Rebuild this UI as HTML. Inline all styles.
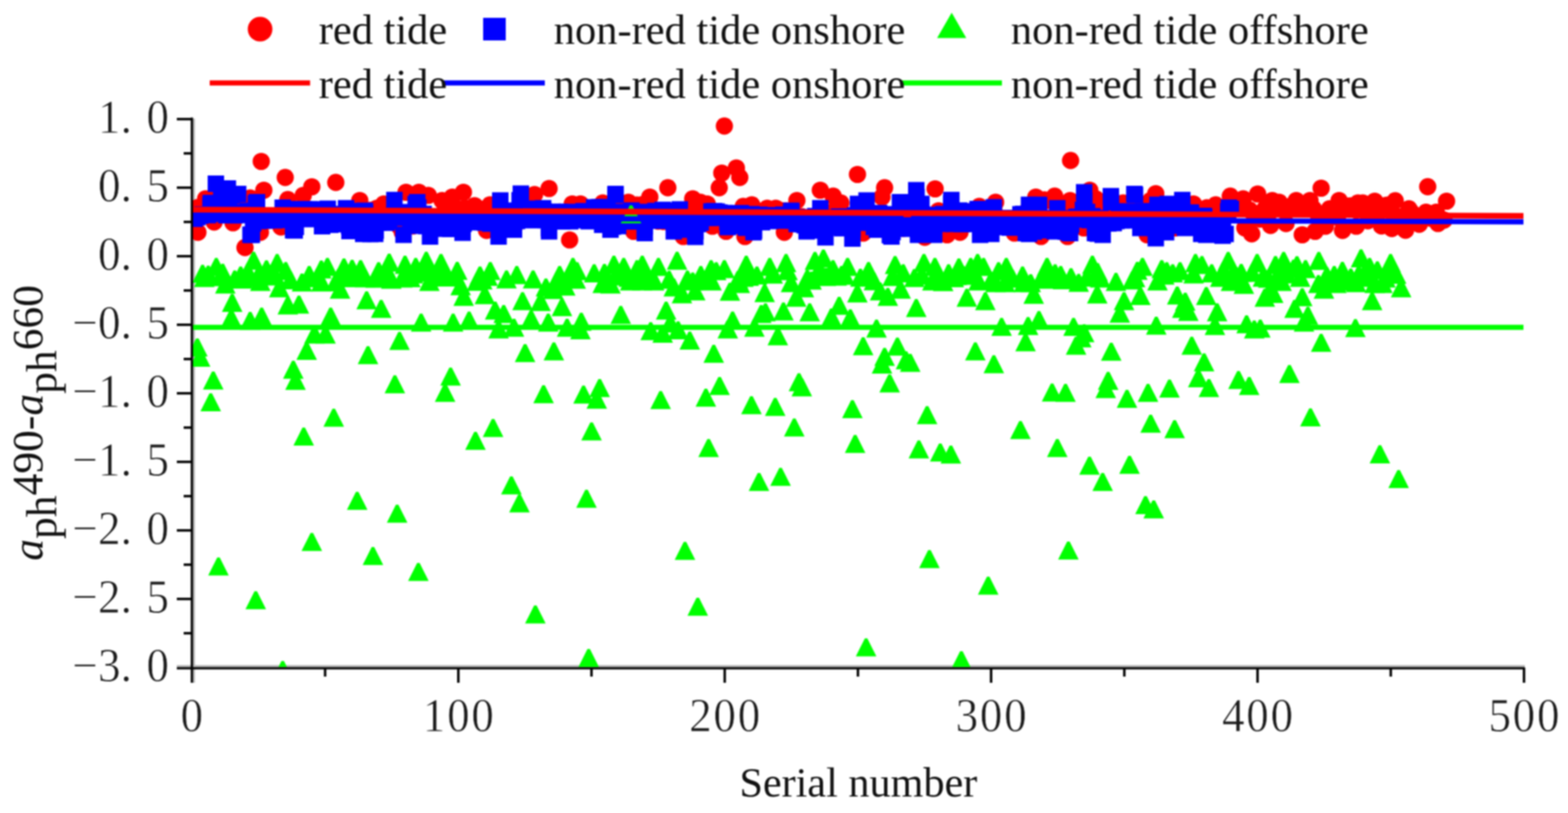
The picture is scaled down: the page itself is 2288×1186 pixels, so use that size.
<!DOCTYPE html>
<html lang="en"><head><meta charset="utf-8"><title>aph490-aph660 vs serial number</title>
<style>
html,body{margin:0;padding:0;background:#fff;}
body{width:2288px;height:1186px;overflow:hidden;}
svg{display:block;filter:blur(1px);}
text{font-family:"Liberation Serif","Times New Roman",serif;fill:#111;}
.lg{font-size:62px;}
.tk{font-size:70px;fill:#1a1a1a;stroke:#fff;stroke-width:0.8px;}
.ax{stroke:#000;stroke-width:3.6;fill:none;}
</style></head><body>
<svg width="2288" height="1186" viewBox="0 0 2288 1186">
<rect width="2288" height="1186" fill="#fff"/>
<defs><clipPath id="cp"><rect x="281" y="150" width="1960" height="823"/></clipPath></defs>
<path d="M283 173V996" stroke="#b4b4b4" stroke-width="2.8" fill="none"/>
<path d="M258 971.8H2225" stroke="#b4b4b4" stroke-width="3" fill="none"/>
<g clip-path="url(#cp)">
<g fill="#f00">
<circle cx="283.9" cy="314.6" r="12.6"/>
<circle cx="295.6" cy="306.5" r="12.6"/>
<circle cx="303.3" cy="313.1" r="12.6"/>
<circle cx="307.2" cy="304.7" r="12.6"/>
<circle cx="315.0" cy="285.8" r="12.6"/>
<circle cx="318.9" cy="291.4" r="12.6"/>
<circle cx="322.8" cy="295.7" r="12.6"/>
<circle cx="326.6" cy="281.9" r="12.6"/>
<circle cx="330.5" cy="283.6" r="12.6"/>
<circle cx="334.4" cy="302.6" r="12.6"/>
<circle cx="342.2" cy="302.8" r="12.6"/>
<circle cx="346.1" cy="299.6" r="12.6"/>
<circle cx="350.0" cy="312.5" r="12.6"/>
<circle cx="353.9" cy="311.2" r="12.6"/>
<circle cx="361.6" cy="312.5" r="12.6"/>
<circle cx="369.4" cy="315.8" r="12.6"/>
<circle cx="373.3" cy="315.3" r="12.6"/>
<circle cx="377.2" cy="317.1" r="12.6"/>
<circle cx="392.7" cy="321.6" r="12.6"/>
<circle cx="396.6" cy="319.3" r="12.6"/>
<circle cx="400.5" cy="319.3" r="12.6"/>
<circle cx="404.4" cy="321.7" r="12.6"/>
<circle cx="412.2" cy="309.1" r="12.6"/>
<circle cx="423.8" cy="322.0" r="12.6"/>
<circle cx="427.7" cy="331.7" r="12.6"/>
<circle cx="431.6" cy="309.5" r="12.6"/>
<circle cx="435.5" cy="308.9" r="12.6"/>
<circle cx="439.4" cy="315.7" r="12.6"/>
<circle cx="447.2" cy="309.1" r="12.6"/>
<circle cx="451.1" cy="306.9" r="12.6"/>
<circle cx="458.8" cy="317.2" r="12.6"/>
<circle cx="462.7" cy="311.4" r="12.6"/>
<circle cx="466.6" cy="316.6" r="12.6"/>
<circle cx="470.5" cy="308.3" r="12.6"/>
<circle cx="474.4" cy="314.4" r="12.6"/>
<circle cx="478.3" cy="320.6" r="12.6"/>
<circle cx="482.1" cy="313.3" r="12.6"/>
<circle cx="486.0" cy="315.9" r="12.6"/>
<circle cx="493.8" cy="322.9" r="12.6"/>
<circle cx="497.7" cy="326.2" r="12.6"/>
<circle cx="501.6" cy="327.0" r="12.6"/>
<circle cx="505.5" cy="308.5" r="12.6"/>
<circle cx="509.4" cy="320.5" r="12.6"/>
<circle cx="513.2" cy="329.0" r="12.6"/>
<circle cx="517.1" cy="322.0" r="12.6"/>
<circle cx="521.0" cy="327.0" r="12.6"/>
<circle cx="528.8" cy="307.7" r="12.6"/>
<circle cx="532.7" cy="307.1" r="12.6"/>
<circle cx="536.6" cy="307.3" r="12.6"/>
<circle cx="540.5" cy="306.9" r="12.6"/>
<circle cx="544.4" cy="309.5" r="12.6"/>
<circle cx="552.1" cy="309.3" r="12.6"/>
<circle cx="556.0" cy="309.6" r="12.6"/>
<circle cx="563.8" cy="317.9" r="12.6"/>
<circle cx="567.7" cy="318.2" r="12.6"/>
<circle cx="571.6" cy="318.3" r="12.6"/>
<circle cx="575.5" cy="319.5" r="12.6"/>
<circle cx="579.3" cy="324.4" r="12.6"/>
<circle cx="587.1" cy="339.1" r="12.6"/>
<circle cx="594.9" cy="311.3" r="12.6"/>
<circle cx="598.8" cy="310.6" r="12.6"/>
<circle cx="602.7" cy="329.7" r="12.6"/>
<circle cx="606.5" cy="312.1" r="12.6"/>
<circle cx="614.3" cy="326.0" r="12.6"/>
<circle cx="618.2" cy="317.1" r="12.6"/>
<circle cx="622.1" cy="320.0" r="12.6"/>
<circle cx="629.9" cy="330.8" r="12.6"/>
<circle cx="633.8" cy="323.8" r="12.6"/>
<circle cx="637.7" cy="326.7" r="12.6"/>
<circle cx="641.5" cy="317.0" r="12.6"/>
<circle cx="649.3" cy="299.0" r="12.6"/>
<circle cx="653.2" cy="299.7" r="12.6"/>
<circle cx="657.1" cy="296.4" r="12.6"/>
<circle cx="664.9" cy="324.2" r="12.6"/>
<circle cx="668.8" cy="306.7" r="12.6"/>
<circle cx="672.6" cy="305.0" r="12.6"/>
<circle cx="680.4" cy="304.0" r="12.6"/>
<circle cx="684.3" cy="318.2" r="12.6"/>
<circle cx="688.2" cy="321.4" r="12.6"/>
<circle cx="696.0" cy="303.1" r="12.6"/>
<circle cx="699.9" cy="307.5" r="12.6"/>
<circle cx="703.7" cy="307.0" r="12.6"/>
<circle cx="707.6" cy="306.5" r="12.6"/>
<circle cx="719.3" cy="324.1" r="12.6"/>
<circle cx="723.2" cy="321.5" r="12.6"/>
<circle cx="727.1" cy="326.3" r="12.6"/>
<circle cx="731.0" cy="317.3" r="12.6"/>
<circle cx="734.8" cy="320.7" r="12.6"/>
<circle cx="738.7" cy="332.8" r="12.6"/>
<circle cx="742.6" cy="328.3" r="12.6"/>
<circle cx="746.5" cy="314.5" r="12.6"/>
<circle cx="750.4" cy="331.0" r="12.6"/>
<circle cx="754.3" cy="318.4" r="12.6"/>
<circle cx="758.2" cy="313.5" r="12.6"/>
<circle cx="762.0" cy="314.9" r="12.6"/>
<circle cx="765.9" cy="311.9" r="12.6"/>
<circle cx="769.8" cy="320.2" r="12.6"/>
<circle cx="773.7" cy="320.0" r="12.6"/>
<circle cx="777.6" cy="316.8" r="12.6"/>
<circle cx="785.4" cy="318.0" r="12.6"/>
<circle cx="789.3" cy="318.0" r="12.6"/>
<circle cx="793.1" cy="311.9" r="12.6"/>
<circle cx="797.0" cy="317.3" r="12.6"/>
<circle cx="804.8" cy="310.1" r="12.6"/>
<circle cx="808.7" cy="313.6" r="12.6"/>
<circle cx="812.6" cy="315.2" r="12.6"/>
<circle cx="816.5" cy="309.4" r="12.6"/>
<circle cx="820.4" cy="313.8" r="12.6"/>
<circle cx="824.2" cy="317.4" r="12.6"/>
<circle cx="828.1" cy="317.2" r="12.6"/>
<circle cx="839.8" cy="301.7" r="12.6"/>
<circle cx="843.7" cy="305.2" r="12.6"/>
<circle cx="851.5" cy="317.3" r="12.6"/>
<circle cx="855.4" cy="312.7" r="12.6"/>
<circle cx="859.2" cy="303.8" r="12.6"/>
<circle cx="863.1" cy="303.3" r="12.6"/>
<circle cx="867.0" cy="303.2" r="12.6"/>
<circle cx="870.9" cy="302.4" r="12.6"/>
<circle cx="874.8" cy="322.0" r="12.6"/>
<circle cx="882.6" cy="318.4" r="12.6"/>
<circle cx="886.5" cy="319.8" r="12.6"/>
<circle cx="890.3" cy="326.6" r="12.6"/>
<circle cx="894.2" cy="304.2" r="12.6"/>
<circle cx="898.1" cy="299.4" r="12.6"/>
<circle cx="902.0" cy="302.3" r="12.6"/>
<circle cx="905.9" cy="324.8" r="12.6"/>
<circle cx="909.8" cy="313.8" r="12.6"/>
<circle cx="913.7" cy="313.6" r="12.6"/>
<circle cx="921.4" cy="308.7" r="12.6"/>
<circle cx="929.2" cy="299.0" r="12.6"/>
<circle cx="933.1" cy="299.9" r="12.6"/>
<circle cx="937.0" cy="298.5" r="12.6"/>
<circle cx="940.9" cy="299.3" r="12.6"/>
<circle cx="944.8" cy="321.8" r="12.6"/>
<circle cx="952.5" cy="315.8" r="12.6"/>
<circle cx="956.4" cy="315.1" r="12.6"/>
<circle cx="960.3" cy="322.7" r="12.6"/>
<circle cx="964.2" cy="316.1" r="12.6"/>
<circle cx="968.1" cy="323.2" r="12.6"/>
<circle cx="972.0" cy="317.3" r="12.6"/>
<circle cx="979.8" cy="320.1" r="12.6"/>
<circle cx="983.6" cy="309.0" r="12.6"/>
<circle cx="987.5" cy="324.1" r="12.6"/>
<circle cx="991.4" cy="328.8" r="12.6"/>
<circle cx="999.2" cy="317.6" r="12.6"/>
<circle cx="1003.1" cy="334.4" r="12.6"/>
<circle cx="1007.0" cy="319.8" r="12.6"/>
<circle cx="1014.7" cy="300.4" r="12.6"/>
<circle cx="1018.6" cy="298.8" r="12.6"/>
<circle cx="1026.4" cy="303.0" r="12.6"/>
<circle cx="1034.2" cy="314.8" r="12.6"/>
<circle cx="1042.0" cy="309.8" r="12.6"/>
<circle cx="1045.8" cy="317.8" r="12.6"/>
<circle cx="1065.3" cy="319.2" r="12.6"/>
<circle cx="1069.2" cy="321.1" r="12.6"/>
<circle cx="1076.9" cy="322.4" r="12.6"/>
<circle cx="1092.5" cy="306.1" r="12.6"/>
<circle cx="1100.3" cy="308.2" r="12.6"/>
<circle cx="1104.2" cy="310.0" r="12.6"/>
<circle cx="1108.0" cy="309.6" r="12.6"/>
<circle cx="1111.9" cy="308.2" r="12.6"/>
<circle cx="1115.8" cy="310.3" r="12.6"/>
<circle cx="1123.6" cy="308.2" r="12.6"/>
<circle cx="1127.5" cy="306.8" r="12.6"/>
<circle cx="1135.2" cy="315.2" r="12.6"/>
<circle cx="1139.1" cy="307.0" r="12.6"/>
<circle cx="1146.9" cy="307.5" r="12.6"/>
<circle cx="1150.8" cy="310.5" r="12.6"/>
<circle cx="1154.7" cy="308.7" r="12.6"/>
<circle cx="1158.6" cy="321.3" r="12.6"/>
<circle cx="1166.3" cy="325.0" r="12.6"/>
<circle cx="1170.2" cy="316.1" r="12.6"/>
<circle cx="1174.1" cy="328.1" r="12.6"/>
<circle cx="1178.0" cy="334.6" r="12.6"/>
<circle cx="1181.9" cy="317.0" r="12.6"/>
<circle cx="1185.8" cy="333.8" r="12.6"/>
<circle cx="1189.7" cy="324.2" r="12.6"/>
<circle cx="1193.6" cy="325.2" r="12.6"/>
<circle cx="1201.3" cy="335.2" r="12.6"/>
<circle cx="1205.2" cy="323.6" r="12.6"/>
<circle cx="1209.1" cy="324.7" r="12.6"/>
<circle cx="1213.0" cy="331.0" r="12.6"/>
<circle cx="1220.8" cy="302.9" r="12.6"/>
<circle cx="1224.7" cy="301.6" r="12.6"/>
<circle cx="1232.4" cy="331.7" r="12.6"/>
<circle cx="1236.3" cy="329.2" r="12.6"/>
<circle cx="1240.2" cy="325.0" r="12.6"/>
<circle cx="1244.1" cy="318.0" r="12.6"/>
<circle cx="1248.0" cy="324.6" r="12.6"/>
<circle cx="1255.8" cy="313.6" r="12.6"/>
<circle cx="1263.5" cy="301.1" r="12.6"/>
<circle cx="1267.4" cy="312.7" r="12.6"/>
<circle cx="1271.3" cy="321.8" r="12.6"/>
<circle cx="1275.2" cy="314.1" r="12.6"/>
<circle cx="1279.1" cy="320.2" r="12.6"/>
<circle cx="1283.0" cy="324.4" r="12.6"/>
<circle cx="1294.6" cy="320.4" r="12.6"/>
<circle cx="1298.5" cy="320.2" r="12.6"/>
<circle cx="1302.4" cy="330.5" r="12.6"/>
<circle cx="1306.3" cy="320.8" r="12.6"/>
<circle cx="1310.2" cy="328.5" r="12.6"/>
<circle cx="1314.1" cy="315.8" r="12.6"/>
<circle cx="1318.0" cy="333.2" r="12.6"/>
<circle cx="1321.9" cy="331.5" r="12.6"/>
<circle cx="1325.7" cy="323.4" r="12.6"/>
<circle cx="1329.6" cy="304.9" r="12.6"/>
<circle cx="1333.5" cy="300.2" r="12.6"/>
<circle cx="1337.4" cy="327.4" r="12.6"/>
<circle cx="1341.3" cy="332.5" r="12.6"/>
<circle cx="1345.2" cy="325.5" r="12.6"/>
<circle cx="1353.0" cy="323.4" r="12.6"/>
<circle cx="1356.8" cy="320.9" r="12.6"/>
<circle cx="1360.7" cy="332.9" r="12.6"/>
<circle cx="1372.4" cy="320.9" r="12.6"/>
<circle cx="1376.3" cy="321.3" r="12.6"/>
<circle cx="1384.0" cy="321.9" r="12.6"/>
<circle cx="1387.9" cy="318.6" r="12.6"/>
<circle cx="1391.8" cy="309.6" r="12.6"/>
<circle cx="1395.7" cy="310.9" r="12.6"/>
<circle cx="1403.5" cy="326.6" r="12.6"/>
<circle cx="1407.4" cy="325.4" r="12.6"/>
<circle cx="1411.3" cy="324.7" r="12.6"/>
<circle cx="1415.2" cy="308.8" r="12.6"/>
<circle cx="1419.0" cy="309.2" r="12.6"/>
<circle cx="1422.9" cy="313.1" r="12.6"/>
<circle cx="1426.8" cy="318.2" r="12.6"/>
<circle cx="1434.6" cy="307.4" r="12.6"/>
<circle cx="1438.5" cy="304.8" r="12.6"/>
<circle cx="1442.4" cy="307.0" r="12.6"/>
<circle cx="1446.2" cy="304.6" r="12.6"/>
<circle cx="1450.1" cy="304.7" r="12.6"/>
<circle cx="1457.9" cy="327.1" r="12.6"/>
<circle cx="1461.8" cy="325.1" r="12.6"/>
<circle cx="1465.7" cy="326.4" r="12.6"/>
<circle cx="1469.6" cy="322.4" r="12.6"/>
<circle cx="1473.5" cy="324.0" r="12.6"/>
<circle cx="1477.4" cy="320.0" r="12.6"/>
<circle cx="1485.1" cy="318.7" r="12.6"/>
<circle cx="1489.0" cy="326.8" r="12.6"/>
<circle cx="1492.9" cy="328.7" r="12.6"/>
<circle cx="1496.8" cy="313.9" r="12.6"/>
<circle cx="1500.7" cy="304.9" r="12.6"/>
<circle cx="1504.6" cy="333.0" r="12.6"/>
<circle cx="1508.5" cy="323.1" r="12.6"/>
<circle cx="1516.2" cy="294.3" r="12.6"/>
<circle cx="1524.0" cy="291.6" r="12.6"/>
<circle cx="1527.9" cy="292.6" r="12.6"/>
<circle cx="1531.8" cy="291.8" r="12.6"/>
<circle cx="1535.7" cy="333.4" r="12.6"/>
<circle cx="1543.4" cy="297.3" r="12.6"/>
<circle cx="1547.3" cy="298.8" r="12.6"/>
<circle cx="1551.2" cy="300.4" r="12.6"/>
<circle cx="1555.1" cy="297.1" r="12.6"/>
<circle cx="1570.7" cy="319.6" r="12.6"/>
<circle cx="1574.5" cy="320.7" r="12.6"/>
<circle cx="1578.4" cy="300.1" r="12.6"/>
<circle cx="1586.2" cy="314.0" r="12.6"/>
<circle cx="1594.0" cy="313.2" r="12.6"/>
<circle cx="1601.8" cy="311.3" r="12.6"/>
<circle cx="1605.6" cy="337.3" r="12.6"/>
<circle cx="1609.5" cy="310.6" r="12.6"/>
<circle cx="1613.4" cy="309.6" r="12.6"/>
<circle cx="1617.3" cy="302.1" r="12.6"/>
<circle cx="1621.2" cy="301.7" r="12.6"/>
<circle cx="1625.1" cy="321.0" r="12.6"/>
<circle cx="1629.0" cy="312.2" r="12.6"/>
<circle cx="1632.9" cy="318.9" r="12.6"/>
<circle cx="1636.7" cy="309.1" r="12.6"/>
<circle cx="1644.5" cy="311.0" r="12.6"/>
<circle cx="1648.4" cy="317.3" r="12.6"/>
<circle cx="1652.3" cy="309.1" r="12.6"/>
<circle cx="1656.2" cy="300.8" r="12.6"/>
<circle cx="1660.1" cy="302.9" r="12.6"/>
<circle cx="1664.0" cy="317.0" r="12.6"/>
<circle cx="1667.8" cy="312.0" r="12.6"/>
<circle cx="1671.7" cy="310.0" r="12.6"/>
<circle cx="1683.4" cy="317.0" r="12.6"/>
<circle cx="1691.2" cy="330.0" r="12.6"/>
<circle cx="1695.0" cy="319.1" r="12.6"/>
<circle cx="1698.9" cy="311.6" r="12.6"/>
<circle cx="1702.8" cy="323.2" r="12.6"/>
<circle cx="1706.7" cy="316.8" r="12.6"/>
<circle cx="1710.6" cy="327.1" r="12.6"/>
<circle cx="1718.4" cy="327.7" r="12.6"/>
<circle cx="1722.3" cy="326.9" r="12.6"/>
<circle cx="1726.2" cy="309.0" r="12.6"/>
<circle cx="1730.0" cy="325.8" r="12.6"/>
<circle cx="1733.9" cy="316.3" r="12.6"/>
<circle cx="1737.8" cy="316.5" r="12.6"/>
<circle cx="1745.6" cy="321.8" r="12.6"/>
<circle cx="1749.5" cy="328.7" r="12.6"/>
<circle cx="1757.2" cy="306.2" r="12.6"/>
<circle cx="1761.1" cy="303.0" r="12.6"/>
<circle cx="1765.0" cy="303.6" r="12.6"/>
<circle cx="1768.9" cy="329.8" r="12.6"/>
<circle cx="1776.7" cy="303.6" r="12.6"/>
<circle cx="1780.6" cy="303.7" r="12.6"/>
<circle cx="1784.5" cy="303.7" r="12.6"/>
<circle cx="1788.4" cy="302.7" r="12.6"/>
<circle cx="1792.2" cy="304.6" r="12.6"/>
<circle cx="1800.0" cy="297.0" r="12.6"/>
<circle cx="1803.9" cy="295.7" r="12.6"/>
<circle cx="1807.8" cy="297.2" r="12.6"/>
<circle cx="1811.7" cy="295.8" r="12.6"/>
<circle cx="1823.3" cy="306.4" r="12.6"/>
<circle cx="1831.1" cy="317.4" r="12.6"/>
<circle cx="1838.9" cy="319.7" r="12.6"/>
<circle cx="1842.8" cy="308.3" r="12.6"/>
<circle cx="1846.7" cy="303.4" r="12.6"/>
<circle cx="1850.6" cy="312.8" r="12.6"/>
<circle cx="1862.2" cy="300.7" r="12.6"/>
<circle cx="1870.0" cy="300.8" r="12.6"/>
<circle cx="1873.9" cy="302.8" r="12.6"/>
<circle cx="1881.7" cy="301.3" r="12.6"/>
<circle cx="1885.5" cy="302.0" r="12.6"/>
<circle cx="1889.4" cy="298.3" r="12.6"/>
<circle cx="1897.2" cy="298.2" r="12.6"/>
<circle cx="1905.0" cy="299.4" r="12.6"/>
<circle cx="1908.9" cy="295.9" r="12.6"/>
<circle cx="1916.6" cy="304.6" r="12.6"/>
<circle cx="1924.4" cy="317.0" r="12.6"/>
<circle cx="1936.1" cy="320.1" r="12.6"/>
<circle cx="1940.0" cy="304.6" r="12.6"/>
<circle cx="1943.9" cy="315.0" r="12.6"/>
<circle cx="1947.7" cy="305.7" r="12.6"/>
<circle cx="1951.6" cy="317.2" r="12.6"/>
<circle cx="1963.3" cy="302.5" r="12.6"/>
<circle cx="1967.2" cy="300.5" r="12.6"/>
<circle cx="1971.1" cy="300.4" r="12.6"/>
<circle cx="1975.0" cy="303.1" r="12.6"/>
<circle cx="1990.5" cy="301.6" r="12.6"/>
<circle cx="1998.3" cy="302.8" r="12.6"/>
<circle cx="2002.2" cy="301.0" r="12.6"/>
<circle cx="2009.9" cy="309.4" r="12.6"/>
<circle cx="2013.8" cy="301.4" r="12.6"/>
<circle cx="2021.6" cy="299.9" r="12.6"/>
<circle cx="2025.5" cy="299.0" r="12.6"/>
<circle cx="2033.3" cy="313.2" r="12.6"/>
<circle cx="2041.0" cy="316.7" r="12.6"/>
<circle cx="2044.9" cy="316.5" r="12.6"/>
<circle cx="2048.8" cy="320.4" r="12.6"/>
<circle cx="2060.5" cy="310.8" r="12.6"/>
<circle cx="2064.4" cy="318.7" r="12.6"/>
<circle cx="2068.2" cy="315.7" r="12.6"/>
<circle cx="2076.0" cy="319.2" r="12.6"/>
<circle cx="2087.7" cy="318.3" r="12.6"/>
<circle cx="2091.6" cy="318.8" r="12.6"/>
<circle cx="2103.2" cy="319.9" r="12.6"/>
<circle cx="2107.1" cy="321.2" r="12.6"/>
<circle cx="288.8" cy="302.5" r="12.6"/>
<circle cx="288.8" cy="338.8" r="12.6"/>
<circle cx="300.0" cy="290.0" r="12.6"/>
<circle cx="312.5" cy="323.8" r="12.6"/>
<circle cx="340.0" cy="325.0" r="12.6"/>
<circle cx="357.5" cy="361.2" r="12.6"/>
<circle cx="365.0" cy="288.8" r="12.6"/>
<circle cx="380.0" cy="338.8" r="12.6"/>
<circle cx="381.2" cy="235.5" r="12.6"/>
<circle cx="385.0" cy="277.5" r="12.6"/>
<circle cx="410.0" cy="331.2" r="12.6"/>
<circle cx="416.2" cy="258.8" r="12.6"/>
<circle cx="420.0" cy="291.2" r="12.6"/>
<circle cx="442.5" cy="285.0" r="12.6"/>
<circle cx="455.0" cy="272.5" r="12.6"/>
<circle cx="490.0" cy="266.2" r="12.6"/>
<circle cx="525.0" cy="292.5" r="12.6"/>
<circle cx="550.0" cy="303.8" r="12.6"/>
<circle cx="560.0" cy="297.5" r="12.6"/>
<circle cx="582.5" cy="330.0" r="12.6"/>
<circle cx="592.5" cy="280.5" r="12.6"/>
<circle cx="611.2" cy="280.5" r="12.6"/>
<circle cx="625.0" cy="285.0" r="12.6"/>
<circle cx="645.0" cy="292.5" r="12.6"/>
<circle cx="660.0" cy="287.5" r="12.6"/>
<circle cx="676.2" cy="280.5" r="12.6"/>
<circle cx="692.5" cy="300.0" r="12.6"/>
<circle cx="710.0" cy="336.2" r="12.6"/>
<circle cx="715.0" cy="298.8" r="12.6"/>
<circle cx="780.0" cy="283.8" r="12.6"/>
<circle cx="801.2" cy="275.0" r="12.6"/>
<circle cx="831.2" cy="350.0" r="12.6"/>
<circle cx="835.0" cy="297.5" r="12.6"/>
<circle cx="847.0" cy="297.5" r="12.6"/>
<circle cx="879.5" cy="296.2" r="12.6"/>
<circle cx="917.0" cy="295.0" r="12.6"/>
<circle cx="924.5" cy="337.5" r="12.6"/>
<circle cx="948.2" cy="287.5" r="12.6"/>
<circle cx="974.5" cy="273.8" r="12.6"/>
<circle cx="997.0" cy="345.0" r="12.6"/>
<circle cx="1010.8" cy="290.0" r="12.6"/>
<circle cx="1022.0" cy="295.0" r="12.6"/>
<circle cx="1032.0" cy="297.5" r="12.6"/>
<circle cx="1039.5" cy="330.0" r="12.6"/>
<circle cx="1049.5" cy="273.8" r="12.6"/>
<circle cx="1053.2" cy="252.5" r="12.6"/>
<circle cx="1057.0" cy="183.8" r="12.6"/>
<circle cx="1059.5" cy="337.5" r="12.6"/>
<circle cx="1074.5" cy="245.0" r="12.6"/>
<circle cx="1079.5" cy="258.8" r="12.6"/>
<circle cx="1084.5" cy="301.2" r="12.6"/>
<circle cx="1087.0" cy="345.0" r="12.6"/>
<circle cx="1097.0" cy="298.8" r="12.6"/>
<circle cx="1119.5" cy="303.8" r="12.6"/>
<circle cx="1132.0" cy="303.8" r="12.6"/>
<circle cx="1144.5" cy="338.8" r="12.6"/>
<circle cx="1162.8" cy="292.5" r="12.6"/>
<circle cx="1197.0" cy="277.5" r="12.6"/>
<circle cx="1215.8" cy="286.2" r="12.6"/>
<circle cx="1227.0" cy="296.2" r="12.6"/>
<circle cx="1251.2" cy="254.5" r="12.6"/>
<circle cx="1259.5" cy="340.0" r="12.6"/>
<circle cx="1287.0" cy="287.5" r="12.6"/>
<circle cx="1290.8" cy="273.8" r="12.6"/>
<circle cx="1349.5" cy="346.2" r="12.6"/>
<circle cx="1364.5" cy="275.5" r="12.6"/>
<circle cx="1369.5" cy="307.5" r="12.6"/>
<circle cx="1382.0" cy="342.5" r="12.6"/>
<circle cx="1400.8" cy="338.8" r="12.6"/>
<circle cx="1429.0" cy="301.2" r="12.6"/>
<circle cx="1452.8" cy="295.0" r="12.6"/>
<circle cx="1480.2" cy="340.0" r="12.6"/>
<circle cx="1511.5" cy="287.5" r="12.6"/>
<circle cx="1519.0" cy="345.0" r="12.6"/>
<circle cx="1539.0" cy="286.2" r="12.6"/>
<circle cx="1557.8" cy="345.0" r="12.6"/>
<circle cx="1561.5" cy="292.5" r="12.6"/>
<circle cx="1562.2" cy="234.2" r="12.6"/>
<circle cx="1581.5" cy="332.5" r="12.6"/>
<circle cx="1590.2" cy="277.5" r="12.6"/>
<circle cx="1599.0" cy="290.0" r="12.6"/>
<circle cx="1639.0" cy="296.2" r="12.6"/>
<circle cx="1674.0" cy="342.5" r="12.6"/>
<circle cx="1679.0" cy="292.5" r="12.6"/>
<circle cx="1686.5" cy="282.5" r="12.6"/>
<circle cx="1714.0" cy="332.5" r="12.6"/>
<circle cx="1741.5" cy="297.5" r="12.6"/>
<circle cx="1751.5" cy="310.0" r="12.6"/>
<circle cx="1774.0" cy="298.8" r="12.6"/>
<circle cx="1795.2" cy="286.2" r="12.6"/>
<circle cx="1814.0" cy="290.0" r="12.6"/>
<circle cx="1816.5" cy="332.5" r="12.6"/>
<circle cx="1826.5" cy="341.2" r="12.6"/>
<circle cx="1835.2" cy="283.0" r="12.6"/>
<circle cx="1854.0" cy="328.8" r="12.6"/>
<circle cx="1856.5" cy="292.5" r="12.6"/>
<circle cx="1866.5" cy="295.0" r="12.6"/>
<circle cx="1876.5" cy="326.2" r="12.6"/>
<circle cx="1891.5" cy="292.5" r="12.6"/>
<circle cx="1900.2" cy="342.5" r="12.6"/>
<circle cx="1911.5" cy="292.5" r="12.6"/>
<circle cx="1919.0" cy="337.5" r="12.6"/>
<circle cx="1927.8" cy="274.5" r="12.6"/>
<circle cx="1934.0" cy="330.0" r="12.6"/>
<circle cx="1954.0" cy="292.5" r="12.6"/>
<circle cx="1959.0" cy="336.2" r="12.6"/>
<circle cx="1979.0" cy="330.0" r="12.6"/>
<circle cx="1981.5" cy="296.2" r="12.6"/>
<circle cx="1988.5" cy="296.0" r="12.6"/>
<circle cx="1996.0" cy="322.2" r="12.6"/>
<circle cx="2006.0" cy="293.5" r="12.6"/>
<circle cx="2015.9" cy="329.7" r="12.6"/>
<circle cx="2030.9" cy="333.4" r="12.6"/>
<circle cx="2035.9" cy="292.8" r="12.6"/>
<circle cx="2050.9" cy="335.9" r="12.6"/>
<circle cx="2055.9" cy="304.7" r="12.6"/>
<circle cx="2070.9" cy="327.2" r="12.6"/>
<circle cx="2080.8" cy="309.7" r="12.6"/>
<circle cx="2083.3" cy="272.3" r="12.6"/>
<circle cx="2095.8" cy="309.7" r="12.6"/>
<circle cx="2098.3" cy="326.0" r="12.6"/>
<circle cx="2110.8" cy="293.5" r="12.6"/>
</g><g fill="#00f">
<rect x="271.9" y="307.1" width="24" height="24"/>
<rect x="275.8" y="304.8" width="24" height="24"/>
<rect x="279.7" y="302.8" width="24" height="24"/>
<rect x="283.6" y="300.9" width="24" height="24"/>
<rect x="287.4" y="301.1" width="24" height="24"/>
<rect x="291.3" y="301.8" width="24" height="24"/>
<rect x="295.2" y="288.2" width="24" height="24"/>
<rect x="299.1" y="293.8" width="24" height="24"/>
<rect x="303.0" y="285.2" width="24" height="24"/>
<rect x="306.9" y="299.9" width="24" height="24"/>
<rect x="310.8" y="266.7" width="24" height="24"/>
<rect x="314.6" y="263.9" width="24" height="24"/>
<rect x="318.5" y="302.0" width="24" height="24"/>
<rect x="322.4" y="296.3" width="24" height="24"/>
<rect x="326.3" y="273.3" width="24" height="24"/>
<rect x="330.2" y="302.1" width="24" height="24"/>
<rect x="334.1" y="301.7" width="24" height="24"/>
<rect x="338.0" y="297.9" width="24" height="24"/>
<rect x="341.9" y="300.3" width="24" height="24"/>
<rect x="345.8" y="299.5" width="24" height="24"/>
<rect x="349.6" y="295.5" width="24" height="24"/>
<rect x="353.5" y="330.5" width="24" height="24"/>
<rect x="357.4" y="313.8" width="24" height="24"/>
<rect x="361.3" y="284.7" width="24" height="24"/>
<rect x="365.2" y="310.4" width="24" height="24"/>
<rect x="369.1" y="306.5" width="24" height="24"/>
<rect x="373.0" y="305.1" width="24" height="24"/>
<rect x="376.9" y="309.6" width="24" height="24"/>
<rect x="380.7" y="307.6" width="24" height="24"/>
<rect x="384.6" y="307.5" width="24" height="24"/>
<rect x="388.5" y="309.4" width="24" height="24"/>
<rect x="392.4" y="308.8" width="24" height="24"/>
<rect x="396.3" y="306.5" width="24" height="24"/>
<rect x="400.2" y="304.8" width="24" height="24"/>
<rect x="404.1" y="301.0" width="24" height="24"/>
<rect x="408.0" y="293.3" width="24" height="24"/>
<rect x="411.8" y="308.0" width="24" height="24"/>
<rect x="415.7" y="323.9" width="24" height="24"/>
<rect x="419.6" y="319.0" width="24" height="24"/>
<rect x="423.5" y="303.8" width="24" height="24"/>
<rect x="427.4" y="297.5" width="24" height="24"/>
<rect x="431.3" y="293.2" width="24" height="24"/>
<rect x="435.2" y="307.6" width="24" height="24"/>
<rect x="439.1" y="293.6" width="24" height="24"/>
<rect x="442.9" y="294.8" width="24" height="24"/>
<rect x="446.8" y="298.9" width="24" height="24"/>
<rect x="450.7" y="306.0" width="24" height="24"/>
<rect x="454.6" y="293.7" width="24" height="24"/>
<rect x="458.5" y="315.5" width="24" height="24"/>
<rect x="462.4" y="312.8" width="24" height="24"/>
<rect x="466.3" y="292.5" width="24" height="24"/>
<rect x="470.1" y="315.9" width="24" height="24"/>
<rect x="474.0" y="315.0" width="24" height="24"/>
<rect x="477.9" y="301.4" width="24" height="24"/>
<rect x="481.8" y="313.6" width="24" height="24"/>
<rect x="485.7" y="306.6" width="24" height="24"/>
<rect x="489.6" y="300.2" width="24" height="24"/>
<rect x="493.5" y="312.6" width="24" height="24"/>
<rect x="497.4" y="317.5" width="24" height="24"/>
<rect x="501.2" y="295.8" width="24" height="24"/>
<rect x="505.1" y="324.5" width="24" height="24"/>
<rect x="509.0" y="304.9" width="24" height="24"/>
<rect x="512.9" y="297.9" width="24" height="24"/>
<rect x="516.8" y="317.6" width="24" height="24"/>
<rect x="520.7" y="299.1" width="24" height="24"/>
<rect x="524.6" y="304.5" width="24" height="24"/>
<rect x="528.5" y="329.4" width="24" height="24"/>
<rect x="532.4" y="305.3" width="24" height="24"/>
<rect x="536.2" y="324.5" width="24" height="24"/>
<rect x="540.1" y="313.0" width="24" height="24"/>
<rect x="544.0" y="309.2" width="24" height="24"/>
<rect x="547.9" y="305.1" width="24" height="24"/>
<rect x="551.8" y="312.9" width="24" height="24"/>
<rect x="555.7" y="310.9" width="24" height="24"/>
<rect x="559.6" y="304.1" width="24" height="24"/>
<rect x="563.5" y="301.6" width="24" height="24"/>
<rect x="567.3" y="298.3" width="24" height="24"/>
<rect x="571.2" y="297.5" width="24" height="24"/>
<rect x="575.1" y="303.5" width="24" height="24"/>
<rect x="579.0" y="305.5" width="24" height="24"/>
<rect x="582.9" y="299.2" width="24" height="24"/>
<rect x="586.8" y="317.3" width="24" height="24"/>
<rect x="590.7" y="303.4" width="24" height="24"/>
<rect x="594.5" y="285.7" width="24" height="24"/>
<rect x="598.4" y="290.7" width="24" height="24"/>
<rect x="602.3" y="306.3" width="24" height="24"/>
<rect x="606.2" y="300.1" width="24" height="24"/>
<rect x="610.1" y="317.8" width="24" height="24"/>
<rect x="614.0" y="306.7" width="24" height="24"/>
<rect x="617.9" y="306.7" width="24" height="24"/>
<rect x="621.8" y="321.6" width="24" height="24"/>
<rect x="625.7" y="308.5" width="24" height="24"/>
<rect x="629.5" y="306.1" width="24" height="24"/>
<rect x="633.4" y="321.3" width="24" height="24"/>
<rect x="637.3" y="309.2" width="24" height="24"/>
<rect x="641.2" y="304.0" width="24" height="24"/>
<rect x="645.1" y="322.0" width="24" height="24"/>
<rect x="649.0" y="314.5" width="24" height="24"/>
<rect x="652.9" y="304.5" width="24" height="24"/>
<rect x="656.8" y="320.4" width="24" height="24"/>
<rect x="660.6" y="312.5" width="24" height="24"/>
<rect x="664.5" y="314.4" width="24" height="24"/>
<rect x="668.4" y="311.9" width="24" height="24"/>
<rect x="672.3" y="309.1" width="24" height="24"/>
<rect x="676.2" y="305.5" width="24" height="24"/>
<rect x="680.1" y="312.2" width="24" height="24"/>
<rect x="684.0" y="305.8" width="24" height="24"/>
<rect x="687.9" y="304.2" width="24" height="24"/>
<rect x="691.7" y="312.0" width="24" height="24"/>
<rect x="695.6" y="312.7" width="24" height="24"/>
<rect x="699.5" y="304.5" width="24" height="24"/>
<rect x="703.4" y="314.2" width="24" height="24"/>
<rect x="707.3" y="311.2" width="24" height="24"/>
<rect x="711.2" y="304.1" width="24" height="24"/>
<rect x="715.1" y="307.5" width="24" height="24"/>
<rect x="719.0" y="320.2" width="24" height="24"/>
<rect x="722.8" y="297.6" width="24" height="24"/>
<rect x="726.7" y="320.4" width="24" height="24"/>
<rect x="730.6" y="306.5" width="24" height="24"/>
<rect x="734.5" y="295.3" width="24" height="24"/>
<rect x="738.4" y="296.1" width="24" height="24"/>
<rect x="742.3" y="310.4" width="24" height="24"/>
<rect x="746.2" y="280.2" width="24" height="24"/>
<rect x="750.0" y="308.9" width="24" height="24"/>
<rect x="753.9" y="296.9" width="24" height="24"/>
<rect x="757.8" y="294.5" width="24" height="24"/>
<rect x="761.7" y="309.2" width="24" height="24"/>
<rect x="765.6" y="297.6" width="24" height="24"/>
<rect x="769.5" y="292.5" width="24" height="24"/>
<rect x="773.4" y="308.8" width="24" height="24"/>
<rect x="777.3" y="293.3" width="24" height="24"/>
<rect x="781.1" y="296.3" width="24" height="24"/>
<rect x="785.0" y="309.3" width="24" height="24"/>
<rect x="788.9" y="321.2" width="24" height="24"/>
<rect x="792.8" y="298.1" width="24" height="24"/>
<rect x="796.7" y="310.2" width="24" height="24"/>
<rect x="800.6" y="309.8" width="24" height="24"/>
<rect x="804.5" y="296.9" width="24" height="24"/>
<rect x="808.4" y="311.0" width="24" height="24"/>
<rect x="812.2" y="300.2" width="24" height="24"/>
<rect x="816.1" y="297.6" width="24" height="24"/>
<rect x="820.0" y="310.8" width="24" height="24"/>
<rect x="823.9" y="298.8" width="24" height="24"/>
<rect x="827.8" y="297.4" width="24" height="24"/>
<rect x="831.7" y="309.3" width="24" height="24"/>
<rect x="835.6" y="298.2" width="24" height="24"/>
<rect x="839.5" y="296.1" width="24" height="24"/>
<rect x="843.4" y="308.3" width="24" height="24"/>
<rect x="847.2" y="310.7" width="24" height="24"/>
<rect x="851.1" y="297.0" width="24" height="24"/>
<rect x="855.0" y="304.5" width="24" height="24"/>
<rect x="858.9" y="302.3" width="24" height="24"/>
<rect x="862.8" y="290.4" width="24" height="24"/>
<rect x="866.7" y="315.9" width="24" height="24"/>
<rect x="870.6" y="290.5" width="24" height="24"/>
<rect x="874.5" y="292.7" width="24" height="24"/>
<rect x="878.3" y="313.1" width="24" height="24"/>
<rect x="882.2" y="318.6" width="24" height="24"/>
<rect x="886.1" y="272.3" width="24" height="24"/>
<rect x="890.0" y="317.8" width="24" height="24"/>
<rect x="893.9" y="306.9" width="24" height="24"/>
<rect x="897.8" y="297.2" width="24" height="24"/>
<rect x="901.7" y="310.0" width="24" height="24"/>
<rect x="905.6" y="311.0" width="24" height="24"/>
<rect x="909.4" y="295.2" width="24" height="24"/>
<rect x="913.3" y="309.4" width="24" height="24"/>
<rect x="917.2" y="306.8" width="24" height="24"/>
<rect x="921.1" y="297.7" width="24" height="24"/>
<rect x="925.0" y="308.8" width="24" height="24"/>
<rect x="928.9" y="318.2" width="24" height="24"/>
<rect x="932.8" y="297.4" width="24" height="24"/>
<rect x="936.6" y="309.5" width="24" height="24"/>
<rect x="940.5" y="300.3" width="24" height="24"/>
<rect x="944.4" y="295.8" width="24" height="24"/>
<rect x="948.3" y="309.5" width="24" height="24"/>
<rect x="952.2" y="309.9" width="24" height="24"/>
<rect x="956.1" y="301.5" width="24" height="24"/>
<rect x="960.0" y="309.9" width="24" height="24"/>
<rect x="963.9" y="309.7" width="24" height="24"/>
<rect x="967.8" y="295.5" width="24" height="24"/>
<rect x="971.6" y="313.1" width="24" height="24"/>
<rect x="975.5" y="305.6" width="24" height="24"/>
<rect x="979.4" y="311.8" width="24" height="24"/>
<rect x="983.3" y="322.9" width="24" height="24"/>
<rect x="987.2" y="305.4" width="24" height="24"/>
<rect x="991.1" y="305.7" width="24" height="24"/>
<rect x="995.0" y="321.8" width="24" height="24"/>
<rect x="998.9" y="322.2" width="24" height="24"/>
<rect x="1002.7" y="325.4" width="24" height="24"/>
<rect x="1006.6" y="314.8" width="24" height="24"/>
<rect x="1010.5" y="312.8" width="24" height="24"/>
<rect x="1014.4" y="305.5" width="24" height="24"/>
<rect x="1018.3" y="305.9" width="24" height="24"/>
<rect x="1022.2" y="305.5" width="24" height="24"/>
<rect x="1026.1" y="296.5" width="24" height="24"/>
<rect x="1030.0" y="304.5" width="24" height="24"/>
<rect x="1033.8" y="296.6" width="24" height="24"/>
<rect x="1037.7" y="298.1" width="24" height="24"/>
<rect x="1041.6" y="305.8" width="24" height="24"/>
<rect x="1045.5" y="298.8" width="24" height="24"/>
<rect x="1049.4" y="312.5" width="24" height="24"/>
<rect x="1053.3" y="317.0" width="24" height="24"/>
<rect x="1057.2" y="310.9" width="24" height="24"/>
<rect x="1061.1" y="301.5" width="24" height="24"/>
<rect x="1064.9" y="317.7" width="24" height="24"/>
<rect x="1068.8" y="299.0" width="24" height="24"/>
<rect x="1072.7" y="300.9" width="24" height="24"/>
<rect x="1076.6" y="320.2" width="24" height="24"/>
<rect x="1080.5" y="304.5" width="24" height="24"/>
<rect x="1084.4" y="300.5" width="24" height="24"/>
<rect x="1088.3" y="324.7" width="24" height="24"/>
<rect x="1092.2" y="309.7" width="24" height="24"/>
<rect x="1096.0" y="301.3" width="24" height="24"/>
<rect x="1099.9" y="312.1" width="24" height="24"/>
<rect x="1103.8" y="304.8" width="24" height="24"/>
<rect x="1107.7" y="302.0" width="24" height="24"/>
<rect x="1111.6" y="310.4" width="24" height="24"/>
<rect x="1115.5" y="304.7" width="24" height="24"/>
<rect x="1119.4" y="302.4" width="24" height="24"/>
<rect x="1123.2" y="308.3" width="24" height="24"/>
<rect x="1127.1" y="309.7" width="24" height="24"/>
<rect x="1131.0" y="301.2" width="24" height="24"/>
<rect x="1134.9" y="309.3" width="24" height="24"/>
<rect x="1138.8" y="303.5" width="24" height="24"/>
<rect x="1142.7" y="297.2" width="24" height="24"/>
<rect x="1146.6" y="309.5" width="24" height="24"/>
<rect x="1150.5" y="314.8" width="24" height="24"/>
<rect x="1154.3" y="305.0" width="24" height="24"/>
<rect x="1158.2" y="315.1" width="24" height="24"/>
<rect x="1162.1" y="316.5" width="24" height="24"/>
<rect x="1166.0" y="308.7" width="24" height="24"/>
<rect x="1169.9" y="324.2" width="24" height="24"/>
<rect x="1173.8" y="312.5" width="24" height="24"/>
<rect x="1177.7" y="303.3" width="24" height="24"/>
<rect x="1181.6" y="324.1" width="24" height="24"/>
<rect x="1185.5" y="305.6" width="24" height="24"/>
<rect x="1189.3" y="305.6" width="24" height="24"/>
<rect x="1193.2" y="318.7" width="24" height="24"/>
<rect x="1197.1" y="309.2" width="24" height="24"/>
<rect x="1201.0" y="306.3" width="24" height="24"/>
<rect x="1204.9" y="318.1" width="24" height="24"/>
<rect x="1208.8" y="311.6" width="24" height="24"/>
<rect x="1212.7" y="304.0" width="24" height="24"/>
<rect x="1216.6" y="320.9" width="24" height="24"/>
<rect x="1220.4" y="318.8" width="24" height="24"/>
<rect x="1224.3" y="303.9" width="24" height="24"/>
<rect x="1228.2" y="318.9" width="24" height="24"/>
<rect x="1232.1" y="321.1" width="24" height="24"/>
<rect x="1236.0" y="302.2" width="24" height="24"/>
<rect x="1239.9" y="312.8" width="24" height="24"/>
<rect x="1243.8" y="286.9" width="24" height="24"/>
<rect x="1247.7" y="286.7" width="24" height="24"/>
<rect x="1251.5" y="298.4" width="24" height="24"/>
<rect x="1255.4" y="299.3" width="24" height="24"/>
<rect x="1259.3" y="301.2" width="24" height="24"/>
<rect x="1263.2" y="319.0" width="24" height="24"/>
<rect x="1267.1" y="301.7" width="24" height="24"/>
<rect x="1271.0" y="298.9" width="24" height="24"/>
<rect x="1274.9" y="317.9" width="24" height="24"/>
<rect x="1278.8" y="308.1" width="24" height="24"/>
<rect x="1282.6" y="300.6" width="24" height="24"/>
<rect x="1286.5" y="331.0" width="24" height="24"/>
<rect x="1290.4" y="326.4" width="24" height="24"/>
<rect x="1294.3" y="301.6" width="24" height="24"/>
<rect x="1298.2" y="320.2" width="24" height="24"/>
<rect x="1302.1" y="290.8" width="24" height="24"/>
<rect x="1306.0" y="284.4" width="24" height="24"/>
<rect x="1309.9" y="321.7" width="24" height="24"/>
<rect x="1313.7" y="283.4" width="24" height="24"/>
<rect x="1317.6" y="284.4" width="24" height="24"/>
<rect x="1321.5" y="320.1" width="24" height="24"/>
<rect x="1325.4" y="275.7" width="24" height="24"/>
<rect x="1329.3" y="297.5" width="24" height="24"/>
<rect x="1333.2" y="300.9" width="24" height="24"/>
<rect x="1337.1" y="321.6" width="24" height="24"/>
<rect x="1341.0" y="301.6" width="24" height="24"/>
<rect x="1344.8" y="329.2" width="24" height="24"/>
<rect x="1348.7" y="323.4" width="24" height="24"/>
<rect x="1352.6" y="312.2" width="24" height="24"/>
<rect x="1356.5" y="313.6" width="24" height="24"/>
<rect x="1360.4" y="314.5" width="24" height="24"/>
<rect x="1364.3" y="300.3" width="24" height="24"/>
<rect x="1368.2" y="313.2" width="24" height="24"/>
<rect x="1372.0" y="311.6" width="24" height="24"/>
<rect x="1375.9" y="284.7" width="24" height="24"/>
<rect x="1379.8" y="314.6" width="24" height="24"/>
<rect x="1383.7" y="307.2" width="24" height="24"/>
<rect x="1387.6" y="295.2" width="24" height="24"/>
<rect x="1391.5" y="314.9" width="24" height="24"/>
<rect x="1395.4" y="306.9" width="24" height="24"/>
<rect x="1399.3" y="297.6" width="24" height="24"/>
<rect x="1403.2" y="313.6" width="24" height="24"/>
<rect x="1407.0" y="314.8" width="24" height="24"/>
<rect x="1410.9" y="296.4" width="24" height="24"/>
<rect x="1414.8" y="311.9" width="24" height="24"/>
<rect x="1418.7" y="302.3" width="24" height="24"/>
<rect x="1422.6" y="297.2" width="24" height="24"/>
<rect x="1426.5" y="326.0" width="24" height="24"/>
<rect x="1430.4" y="316.5" width="24" height="24"/>
<rect x="1434.2" y="319.0" width="24" height="24"/>
<rect x="1438.1" y="297.0" width="24" height="24"/>
<rect x="1442.0" y="319.3" width="24" height="24"/>
<rect x="1445.9" y="306.7" width="24" height="24"/>
<rect x="1449.8" y="318.1" width="24" height="24"/>
<rect x="1453.7" y="313.0" width="24" height="24"/>
<rect x="1457.6" y="306.1" width="24" height="24"/>
<rect x="1461.5" y="320.0" width="24" height="24"/>
<rect x="1465.4" y="319.4" width="24" height="24"/>
<rect x="1469.2" y="306.3" width="24" height="24"/>
<rect x="1473.1" y="320.0" width="24" height="24"/>
<rect x="1477.0" y="300.6" width="24" height="24"/>
<rect x="1480.9" y="300.1" width="24" height="24"/>
<rect x="1484.8" y="328.1" width="24" height="24"/>
<rect x="1488.7" y="319.8" width="24" height="24"/>
<rect x="1492.6" y="307.8" width="24" height="24"/>
<rect x="1496.5" y="325.9" width="24" height="24"/>
<rect x="1500.3" y="318.6" width="24" height="24"/>
<rect x="1504.2" y="287.2" width="24" height="24"/>
<rect x="1508.1" y="323.6" width="24" height="24"/>
<rect x="1512.0" y="308.6" width="24" height="24"/>
<rect x="1515.9" y="306.0" width="24" height="24"/>
<rect x="1519.8" y="323.6" width="24" height="24"/>
<rect x="1523.7" y="308.0" width="24" height="24"/>
<rect x="1527.5" y="308.4" width="24" height="24"/>
<rect x="1531.4" y="310.6" width="24" height="24"/>
<rect x="1535.3" y="321.3" width="24" height="24"/>
<rect x="1539.2" y="306.3" width="24" height="24"/>
<rect x="1543.1" y="325.9" width="24" height="24"/>
<rect x="1547.0" y="326.7" width="24" height="24"/>
<rect x="1550.9" y="315.7" width="24" height="24"/>
<rect x="1554.8" y="308.2" width="24" height="24"/>
<rect x="1558.7" y="304.4" width="24" height="24"/>
<rect x="1562.5" y="304.4" width="24" height="24"/>
<rect x="1566.4" y="307.6" width="24" height="24"/>
<rect x="1570.3" y="281.0" width="24" height="24"/>
<rect x="1574.2" y="297.2" width="24" height="24"/>
<rect x="1578.1" y="309.1" width="24" height="24"/>
<rect x="1582.0" y="303.4" width="24" height="24"/>
<rect x="1585.9" y="324.9" width="24" height="24"/>
<rect x="1589.8" y="328.8" width="24" height="24"/>
<rect x="1593.6" y="306.1" width="24" height="24"/>
<rect x="1597.5" y="308.5" width="24" height="24"/>
<rect x="1601.4" y="313.5" width="24" height="24"/>
<rect x="1605.3" y="313.9" width="24" height="24"/>
<rect x="1609.2" y="283.1" width="24" height="24"/>
<rect x="1613.1" y="313.4" width="24" height="24"/>
<rect x="1617.0" y="310.5" width="24" height="24"/>
<rect x="1620.9" y="296.6" width="24" height="24"/>
<rect x="1624.7" y="309.3" width="24" height="24"/>
<rect x="1628.6" y="298.2" width="24" height="24"/>
<rect x="1632.5" y="296.6" width="24" height="24"/>
<rect x="1636.4" y="309.5" width="24" height="24"/>
<rect x="1640.3" y="304.7" width="24" height="24"/>
<rect x="1644.2" y="272.4" width="24" height="24"/>
<rect x="1648.1" y="308.1" width="24" height="24"/>
<rect x="1652.0" y="302.0" width="24" height="24"/>
<rect x="1655.8" y="296.2" width="24" height="24"/>
<rect x="1659.7" y="308.6" width="24" height="24"/>
<rect x="1663.6" y="310.3" width="24" height="24"/>
<rect x="1667.5" y="296.5" width="24" height="24"/>
<rect x="1671.4" y="320.2" width="24" height="24"/>
<rect x="1675.3" y="297.7" width="24" height="24"/>
<rect x="1679.2" y="312.4" width="24" height="24"/>
<rect x="1683.0" y="326.0" width="24" height="24"/>
<rect x="1686.9" y="325.9" width="24" height="24"/>
<rect x="1690.8" y="316.7" width="24" height="24"/>
<rect x="1694.7" y="295.5" width="24" height="24"/>
<rect x="1698.6" y="301.9" width="24" height="24"/>
<rect x="1702.5" y="287.4" width="24" height="24"/>
<rect x="1706.4" y="317.2" width="24" height="24"/>
<rect x="1710.3" y="312.7" width="24" height="24"/>
<rect x="1714.2" y="314.7" width="24" height="24"/>
<rect x="1718.0" y="307.5" width="24" height="24"/>
<rect x="1721.9" y="304.2" width="24" height="24"/>
<rect x="1725.8" y="298.1" width="24" height="24"/>
<rect x="1729.7" y="316.6" width="24" height="24"/>
<rect x="1733.6" y="317.4" width="24" height="24"/>
<rect x="1737.5" y="304.1" width="24" height="24"/>
<rect x="1741.4" y="324.6" width="24" height="24"/>
<rect x="1745.2" y="304.4" width="24" height="24"/>
<rect x="1749.1" y="314.0" width="24" height="24"/>
<rect x="1753.0" y="329.8" width="24" height="24"/>
<rect x="1756.9" y="324.1" width="24" height="24"/>
<rect x="1760.8" y="311.0" width="24" height="24"/>
<rect x="1764.7" y="329.4" width="24" height="24"/>
<rect x="1768.6" y="322.7" width="24" height="24"/>
<rect x="1772.5" y="312.3" width="24" height="24"/>
<rect x="1776.4" y="329.3" width="24" height="24"/>
<rect x="1780.2" y="296.2" width="24" height="24"/>
<rect x="1784.1" y="292.8" width="24" height="24"/>
<rect x="295.5" y="284.2" width="24" height="24"/>
<rect x="303.0" y="256.0" width="24" height="24"/>
<rect x="320.5" y="263.0" width="24" height="24"/>
<rect x="335.5" y="271.0" width="24" height="24"/>
<rect x="355.5" y="330.5" width="24" height="24"/>
<rect x="363.0" y="283.0" width="24" height="24"/>
<rect x="400.5" y="291.0" width="24" height="24"/>
<rect x="418.0" y="324.2" width="24" height="24"/>
<rect x="423.0" y="293.5" width="24" height="24"/>
<rect x="448.0" y="293.5" width="24" height="24"/>
<rect x="458.0" y="318.0" width="24" height="24"/>
<rect x="493.0" y="291.8" width="24" height="24"/>
<rect x="498.0" y="325.0" width="24" height="24"/>
<rect x="518.0" y="329.2" width="24" height="24"/>
<rect x="520.5" y="295.5" width="24" height="24"/>
<rect x="535.5" y="329.2" width="24" height="24"/>
<rect x="563.5" y="279.8" width="24" height="24"/>
<rect x="576.8" y="330.5" width="24" height="24"/>
<rect x="596.8" y="283.0" width="24" height="24"/>
<rect x="615.5" y="333.0" width="24" height="24"/>
<rect x="663.0" y="327.5" width="24" height="24"/>
<rect x="715.5" y="333.0" width="24" height="24"/>
<rect x="718.0" y="280.5" width="24" height="24"/>
<rect x="738.0" y="323.0" width="24" height="24"/>
<rect x="748.0" y="270.5" width="24" height="24"/>
<rect x="780.5" y="291.8" width="24" height="24"/>
<rect x="789.2" y="325.5" width="24" height="24"/>
<rect x="855.0" y="290.5" width="24" height="24"/>
<rect x="878.8" y="323.0" width="24" height="24"/>
<rect x="886.2" y="271.0" width="24" height="24"/>
<rect x="928.8" y="328.0" width="24" height="24"/>
<rect x="955.0" y="294.2" width="24" height="24"/>
<rect x="971.2" y="325.5" width="24" height="24"/>
<rect x="980.0" y="293.5" width="24" height="24"/>
<rect x="1002.5" y="333.5" width="24" height="24"/>
<rect x="1030.0" y="296.0" width="24" height="24"/>
<rect x="1050.0" y="319.2" width="24" height="24"/>
<rect x="1087.5" y="326.8" width="24" height="24"/>
<rect x="1142.5" y="295.5" width="24" height="24"/>
<rect x="1165.0" y="325.5" width="24" height="24"/>
<rect x="1185.0" y="291.8" width="24" height="24"/>
<rect x="1192.5" y="334.2" width="24" height="24"/>
<rect x="1231.8" y="336.0" width="24" height="24"/>
<rect x="1240.0" y="285.5" width="24" height="24"/>
<rect x="1252.5" y="280.5" width="24" height="24"/>
<rect x="1267.5" y="323.0" width="24" height="24"/>
<rect x="1288.8" y="333.0" width="24" height="24"/>
<rect x="1301.2" y="283.0" width="24" height="24"/>
<rect x="1325.0" y="265.5" width="24" height="24"/>
<rect x="1327.5" y="330.5" width="24" height="24"/>
<rect x="1332.5" y="285.5" width="24" height="24"/>
<rect x="1351.2" y="330.5" width="24" height="24"/>
<rect x="1376.2" y="279.8" width="24" height="24"/>
<rect x="1414.5" y="293.0" width="24" height="24"/>
<rect x="1418.2" y="330.5" width="24" height="24"/>
<rect x="1434.5" y="329.2" width="24" height="24"/>
<rect x="1438.2" y="290.5" width="24" height="24"/>
<rect x="1489.5" y="286.8" width="24" height="24"/>
<rect x="1489.5" y="329.2" width="24" height="24"/>
<rect x="1502.0" y="286.8" width="24" height="24"/>
<rect x="1527.0" y="325.5" width="24" height="24"/>
<rect x="1530.8" y="291.8" width="24" height="24"/>
<rect x="1549.5" y="328.0" width="24" height="24"/>
<rect x="1568.2" y="294.2" width="24" height="24"/>
<rect x="1570.0" y="268.5" width="24" height="24"/>
<rect x="1585.8" y="328.0" width="24" height="24"/>
<rect x="1597.0" y="330.5" width="24" height="24"/>
<rect x="1609.0" y="274.2" width="24" height="24"/>
<rect x="1643.2" y="271.0" width="24" height="24"/>
<rect x="1652.0" y="320.5" width="24" height="24"/>
<rect x="1674.5" y="335.5" width="24" height="24"/>
<rect x="1677.0" y="286.8" width="24" height="24"/>
<rect x="1689.5" y="326.8" width="24" height="24"/>
<rect x="1692.0" y="285.5" width="24" height="24"/>
<rect x="1713.2" y="279.8" width="24" height="24"/>
<rect x="1717.0" y="320.5" width="24" height="24"/>
<rect x="1740.8" y="329.2" width="24" height="24"/>
<rect x="1744.5" y="303.0" width="24" height="24"/>
<rect x="1748.2" y="330.5" width="24" height="24"/>
<rect x="1772.0" y="331.8" width="24" height="24"/>
<rect x="1781.2" y="291.0" width="24" height="24"/>
</g><g fill="#0f0">
<path d="M286.2 493.8h3.6l13.2 26.3h-30z"/>
<path d="M290.2 508.8h3.6l13.2 26.3h-30z"/>
<path d="M293.8 386.2h3.6l13.2 26.3h-30z"/>
<path d="M296.3 392.5h3.6l13.2 26.3h-30z"/>
<path d="M302.0 387.5h3.6l13.2 26.3h-30z"/>
<path d="M305.7 573.8h3.6l13.2 26.3h-30z"/>
<path d="M309.4 542.0h3.6l13.2 26.3h-30z"/>
<path d="M313.8 376.2h3.6l13.2 26.3h-30z"/>
<path d="M317.0 813.2h3.6l13.2 26.3h-30z"/>
<path d="M323.2 384.8h3.6l13.2 26.3h-30z"/>
<path d="M327.0 401.9h3.6l13.2 26.3h-30z"/>
<path d="M335.7 451.2h3.6l13.2 26.3h-30z"/>
<path d="M337.0 428.8h3.6l13.2 26.3h-30z"/>
<path d="M340.7 394.4h3.6l13.2 26.3h-30z"/>
<path d="M349.4 388.8h3.6l13.2 26.3h-30z"/>
<path d="M363.2 455.0h3.6l13.2 26.3h-30z"/>
<path d="M368.2 367.2h3.6l13.2 26.3h-30z"/>
<path d="M371.4 862.5h3.6l13.2 26.3h-30z"/>
<path d="M378.0 398.1h3.6l13.2 26.3h-30z"/>
<path d="M380.0 448.8h3.6l13.2 26.3h-30z"/>
<path d="M387.0 379.8h3.6l13.2 26.3h-30z"/>
<path d="M402.6 370.6h3.6l13.2 26.3h-30z"/>
<path d="M405.7 407.5h3.6l13.2 26.3h-30z"/>
<path d="M410.7 964.2h3.6l13.2 26.3h-30z"/>
<path d="M415.1 382.2h3.6l13.2 26.3h-30z"/>
<path d="M418.2 432.5h3.6l13.2 26.3h-30z"/>
<path d="M426.2 526.2h3.6l13.2 26.3h-30z"/>
<path d="M429.4 542.5h3.6l13.2 26.3h-30z"/>
<path d="M434.4 431.2h3.6l13.2 26.3h-30z"/>
<path d="M438.8 399.0h3.6l13.2 26.3h-30z"/>
<path d="M441.4 623.8h3.6l13.2 26.3h-30z"/>
<path d="M445.7 498.8h3.6l13.2 26.3h-30z"/>
<path d="M449.4 388.1h3.6l13.2 26.3h-30z"/>
<path d="M453.2 777.5h3.6l13.2 26.3h-30z"/>
<path d="M457.0 475.0h3.6l13.2 26.3h-30z"/>
<path d="M467.0 380.0h3.6l13.2 26.3h-30z"/>
<path d="M467.0 399.0h3.6l13.2 26.3h-30z"/>
<path d="M473.2 475.0h3.6l13.2 26.3h-30z"/>
<path d="M476.0 376.2h3.6l13.2 26.3h-30z"/>
<path d="M480.7 448.8h3.6l13.2 26.3h-30z"/>
<path d="M485.2 596.2h3.6l13.2 26.3h-30z"/>
<path d="M494.4 409.4h3.6l13.2 26.3h-30z"/>
<path d="M500.1 376.9h3.6l13.2 26.3h-30z"/>
<path d="M512.0 379.0h3.6l13.2 26.3h-30z"/>
<path d="M519.4 717.5h3.6l13.2 26.3h-30z"/>
<path d="M524.4 379.4h3.6l13.2 26.3h-30z"/>
<path d="M533.2 425.0h3.6l13.2 26.3h-30z"/>
<path d="M535.2 505.0h3.6l13.2 26.3h-30z"/>
<path d="M542.4 798.0h3.6l13.2 26.3h-30z"/>
<path d="M550.7 382.5h3.6l13.2 26.3h-30z"/>
<path d="M554.4 437.5h3.6l13.2 26.3h-30z"/>
<path d="M566.1 370.0h3.6l13.2 26.3h-30z"/>
<path d="M569.2 395.0h3.6l13.2 26.3h-30z"/>
<path d="M574.4 547.5h3.6l13.2 26.3h-30z"/>
<path d="M577.7 736.2h3.6l13.2 26.3h-30z"/>
<path d="M581.2 484.2h3.6l13.2 26.3h-30z"/>
<path d="M589.2 373.1h3.6l13.2 26.3h-30z"/>
<path d="M604.8 376.2h3.6l13.2 26.3h-30z"/>
<path d="M608.7 821.2h3.6l13.2 26.3h-30z"/>
<path d="M612.7 457.5h3.6l13.2 26.3h-30z"/>
<path d="M620.2 367.2h3.6l13.2 26.3h-30z"/>
<path d="M624.8 398.1h3.6l13.2 26.3h-30z"/>
<path d="M641.7 370.6h3.6l13.2 26.3h-30z"/>
<path d="M647.7 560.0h3.6l13.2 26.3h-30z"/>
<path d="M655.7 536.2h3.6l13.2 26.3h-30z"/>
<path d="M659.4 457.5h3.6l13.2 26.3h-30z"/>
<path d="M665.4 381.9h3.6l13.2 26.3h-30z"/>
<path d="M670.4 404.4h3.6l13.2 26.3h-30z"/>
<path d="M674.8 420.0h3.6l13.2 26.3h-30z"/>
<path d="M682.7 454.5h3.6l13.2 26.3h-30z"/>
<path d="M692.0 630.0h3.6l13.2 26.3h-30z"/>
<path d="M698.6 388.8h3.6l13.2 26.3h-30z"/>
<path d="M705.7 417.5h3.6l13.2 26.3h-30z"/>
<path d="M713.6 382.2h3.6l13.2 26.3h-30z"/>
<path d="M717.7 611.2h3.6l13.2 26.3h-30z"/>
<path d="M720.7 440.0h3.6l13.2 26.3h-30z"/>
<path d="M725.7 467.5h3.6l13.2 26.3h-30z"/>
<path d="M733.2 445.0h3.6l13.2 26.3h-30z"/>
<path d="M737.3 394.4h3.6l13.2 26.3h-30z"/>
<path d="M744.4 695.0h3.6l13.2 26.3h-30z"/>
<path d="M748.2 465.0h3.6l13.2 26.3h-30z"/>
<path d="M752.3 388.1h3.6l13.2 26.3h-30z"/>
<path d="M756.2 721.2h3.6l13.2 26.3h-30z"/>
<path d="M760.7 426.2h3.6l13.2 26.3h-30z"/>
<path d="M764.4 502.0h3.6l13.2 26.3h-30z"/>
<path d="M773.2 452.5h3.6l13.2 26.3h-30z"/>
<path d="M776.1 394.4h3.6l13.2 26.3h-30z"/>
<path d="M779.4 883.2h3.6l13.2 26.3h-30z"/>
<path d="M787.0 427.5h3.6l13.2 26.3h-30z"/>
<path d="M791.4 562.0h3.6l13.2 26.3h-30z"/>
<path d="M794.8 406.2h3.6l13.2 26.3h-30z"/>
<path d="M798.2 457.5h3.6l13.2 26.3h-30z"/>
<path d="M805.4 410.0h3.6l13.2 26.3h-30z"/>
<path d="M806.4 499.5h3.6l13.2 26.3h-30z"/>
<path d="M814.8 388.1h3.6l13.2 26.3h-30z"/>
<path d="M818.2 435.0h3.6l13.2 26.3h-30z"/>
<path d="M823.0 405.0h3.6l13.2 26.3h-30z"/>
<path d="M825.7 465.0h3.6l13.2 26.3h-30z"/>
<path d="M834.2 376.2h3.6l13.2 26.3h-30z"/>
<path d="M838.3 395.0h3.6l13.2 26.3h-30z"/>
<path d="M840.2 382.5h3.6l13.2 26.3h-30z"/>
<path d="M845.2 468.8h3.6l13.2 26.3h-30z"/>
<path d="M846.4 456.2h3.6l13.2 26.3h-30z"/>
<path d="M849.7 562.5h3.6l13.2 26.3h-30z"/>
<path d="M854.0 714.5h3.6l13.2 26.3h-30z"/>
<path d="M857.2 946.8h3.6l13.2 26.3h-30z"/>
<path d="M861.4 616.2h3.6l13.2 26.3h-30z"/>
<path d="M865.2 385.6h3.6l13.2 26.3h-30z"/>
<path d="M869.0 570.0h3.6l13.2 26.3h-30z"/>
<path d="M873.2 553.0h3.6l13.2 26.3h-30z"/>
<path d="M877.7 401.2h3.6l13.2 26.3h-30z"/>
<path d="M880.2 385.0h3.6l13.2 26.3h-30z"/>
<path d="M889.0 401.9h3.6l13.2 26.3h-30z"/>
<path d="M894.0 373.1h3.6l13.2 26.3h-30z"/>
<path d="M904.0 446.2h3.6l13.2 26.3h-30z"/>
<path d="M908.3 376.2h3.6l13.2 26.3h-30z"/>
<path d="M917.7 397.5h3.6l13.2 26.3h-30z"/>
<path d="M927.7 379.4h3.6l13.2 26.3h-30z"/>
<path d="M935.2 397.5h3.6l13.2 26.3h-30z"/>
<path d="M935.4 373.1h3.6l13.2 26.3h-30z"/>
<path d="M947.7 470.0h3.6l13.2 26.3h-30z"/>
<path d="M952.7 397.5h3.6l13.2 26.3h-30z"/>
<path d="M959.0 376.2h3.6l13.2 26.3h-30z"/>
<path d="M962.2 570.5h3.6l13.2 26.3h-30z"/>
<path d="M965.2 473.8h3.6l13.2 26.3h-30z"/>
<path d="M970.2 440.0h3.6l13.2 26.3h-30z"/>
<path d="M974.6 395.0h3.6l13.2 26.3h-30z"/>
<path d="M976.4 458.8h3.6l13.2 26.3h-30z"/>
<path d="M981.4 406.2h3.6l13.2 26.3h-30z"/>
<path d="M986.2 367.2h3.6l13.2 26.3h-30z"/>
<path d="M987.7 468.8h3.6l13.2 26.3h-30z"/>
<path d="M993.3 416.2h3.6l13.2 26.3h-30z"/>
<path d="M997.7 790.5h3.6l13.2 26.3h-30z"/>
<path d="M1004.7 483.8h3.6l13.2 26.3h-30z"/>
<path d="M1009.0 397.5h3.6l13.2 26.3h-30z"/>
<path d="M1012.7 411.9h3.6l13.2 26.3h-30z"/>
<path d="M1016.4 872.0h3.6l13.2 26.3h-30z"/>
<path d="M1020.8 388.1h3.6l13.2 26.3h-30z"/>
<path d="M1028.2 567.0h3.6l13.2 26.3h-30z"/>
<path d="M1032.2 640.5h3.6l13.2 26.3h-30z"/>
<path d="M1035.8 379.4h3.6l13.2 26.3h-30z"/>
<path d="M1036.4 397.5h3.6l13.2 26.3h-30z"/>
<path d="M1039.7 503.0h3.6l13.2 26.3h-30z"/>
<path d="M1043.3 382.5h3.6l13.2 26.3h-30z"/>
<path d="M1048.2 550.0h3.6l13.2 26.3h-30z"/>
<path d="M1055.2 379.4h3.6l13.2 26.3h-30z"/>
<path d="M1060.2 467.5h3.6l13.2 26.3h-30z"/>
<path d="M1063.3 412.5h3.6l13.2 26.3h-30z"/>
<path d="M1067.2 454.5h3.6l13.2 26.3h-30z"/>
<path d="M1077.7 401.2h3.6l13.2 26.3h-30z"/>
<path d="M1087.1 373.1h3.6l13.2 26.3h-30z"/>
<path d="M1094.7 578.0h3.6l13.2 26.3h-30z"/>
<path d="M1099.0 465.0h3.6l13.2 26.3h-30z"/>
<path d="M1102.7 388.8h3.6l13.2 26.3h-30z"/>
<path d="M1105.7 690.0h3.6l13.2 26.3h-30z"/>
<path d="M1109.0 445.0h3.6l13.2 26.3h-30z"/>
<path d="M1114.0 414.4h3.6l13.2 26.3h-30z"/>
<path d="M1115.2 442.5h3.6l13.2 26.3h-30z"/>
<path d="M1121.4 376.2h3.6l13.2 26.3h-30z"/>
<path d="M1129.4 580.5h3.6l13.2 26.3h-30z"/>
<path d="M1133.2 477.5h3.6l13.2 26.3h-30z"/>
<path d="M1137.2 682.5h3.6l13.2 26.3h-30z"/>
<path d="M1141.4 441.2h3.6l13.2 26.3h-30z"/>
<path d="M1145.2 370.6h3.6l13.2 26.3h-30z"/>
<path d="M1147.4 382.5h3.6l13.2 26.3h-30z"/>
<path d="M1152.4 400.0h3.6l13.2 26.3h-30z"/>
<path d="M1157.2 610.5h3.6l13.2 26.3h-30z"/>
<path d="M1160.0 421.2h3.6l13.2 26.3h-30z"/>
<path d="M1164.0 544.5h3.6l13.2 26.3h-30z"/>
<path d="M1168.2 552.0h3.6l13.2 26.3h-30z"/>
<path d="M1171.2 407.5h3.6l13.2 26.3h-30z"/>
<path d="M1179.7 442.5h3.6l13.2 26.3h-30z"/>
<path d="M1182.4 396.2h3.6l13.2 26.3h-30z"/>
<path d="M1187.4 367.5h3.6l13.2 26.3h-30z"/>
<path d="M1199.7 364.0h3.6l13.2 26.3h-30z"/>
<path d="M1208.7 388.1h3.6l13.2 26.3h-30z"/>
<path d="M1211.4 450.0h3.6l13.2 26.3h-30z"/>
<path d="M1213.7 379.4h3.6l13.2 26.3h-30z"/>
<path d="M1222.7 433.0h3.6l13.2 26.3h-30z"/>
<path d="M1226.2 388.1h3.6l13.2 26.3h-30z"/>
<path d="M1235.0 376.2h3.6l13.2 26.3h-30z"/>
<path d="M1239.0 451.2h3.6l13.2 26.3h-30z"/>
<path d="M1242.0 583.8h3.6l13.2 26.3h-30z"/>
<path d="M1246.0 634.5h3.6l13.2 26.3h-30z"/>
<path d="M1249.3 415.0h3.6l13.2 26.3h-30z"/>
<path d="M1253.7 391.9h3.6l13.2 26.3h-30z"/>
<path d="M1257.7 492.0h3.6l13.2 26.3h-30z"/>
<path d="M1262.0 931.2h3.6l13.2 26.3h-30z"/>
<path d="M1265.6 382.2h3.6l13.2 26.3h-30z"/>
<path d="M1277.2 466.2h3.6l13.2 26.3h-30z"/>
<path d="M1282.4 411.9h3.6l13.2 26.3h-30z"/>
<path d="M1285.2 518.8h3.6l13.2 26.3h-30z"/>
<path d="M1289.0 507.5h3.6l13.2 26.3h-30z"/>
<path d="M1293.7 420.0h3.6l13.2 26.3h-30z"/>
<path d="M1296.4 546.2h3.6l13.2 26.3h-30z"/>
<path d="M1304.3 373.5h3.6l13.2 26.3h-30z"/>
<path d="M1307.7 492.5h3.6l13.2 26.3h-30z"/>
<path d="M1312.4 409.4h3.6l13.2 26.3h-30z"/>
<path d="M1316.2 385.6h3.6l13.2 26.3h-30z"/>
<path d="M1320.2 512.5h3.6l13.2 26.3h-30z"/>
<path d="M1326.4 516.2h3.6l13.2 26.3h-30z"/>
<path d="M1332.4 392.5h3.6l13.2 26.3h-30z"/>
<path d="M1335.2 436.2h3.6l13.2 26.3h-30z"/>
<path d="M1339.0 642.5h3.6l13.2 26.3h-30z"/>
<path d="M1346.4 370.4h3.6l13.2 26.3h-30z"/>
<path d="M1351.0 592.5h3.6l13.2 26.3h-30z"/>
<path d="M1354.4 802.5h3.6l13.2 26.3h-30z"/>
<path d="M1358.7 397.5h3.6l13.2 26.3h-30z"/>
<path d="M1362.4 376.2h3.6l13.2 26.3h-30z"/>
<path d="M1370.2 647.0h3.6l13.2 26.3h-30z"/>
<path d="M1380.0 392.5h3.6l13.2 26.3h-30z"/>
<path d="M1382.4 385.6h3.6l13.2 26.3h-30z"/>
<path d="M1385.7 650.0h3.6l13.2 26.3h-30z"/>
<path d="M1397.4 376.9h3.6l13.2 26.3h-30z"/>
<path d="M1401.0 950.0h3.6l13.2 26.3h-30z"/>
<path d="M1403.7 388.1h3.6l13.2 26.3h-30z"/>
<path d="M1409.0 421.2h3.6l13.2 26.3h-30z"/>
<path d="M1414.7 376.2h3.6l13.2 26.3h-30z"/>
<path d="M1421.4 499.5h3.6l13.2 26.3h-30z"/>
<path d="M1424.7 370.6h3.6l13.2 26.3h-30z"/>
<path d="M1426.0 397.5h3.6l13.2 26.3h-30z"/>
<path d="M1433.4 376.2h3.6l13.2 26.3h-30z"/>
<path d="M1436.0 426.2h3.6l13.2 26.3h-30z"/>
<path d="M1440.2 841.2h3.6l13.2 26.3h-30z"/>
<path d="M1448.4 518.2h3.6l13.2 26.3h-30z"/>
<path d="M1451.0 400.0h3.6l13.2 26.3h-30z"/>
<path d="M1455.3 382.5h3.6l13.2 26.3h-30z"/>
<path d="M1459.7 463.8h3.6l13.2 26.3h-30z"/>
<path d="M1464.7 400.0h3.6l13.2 26.3h-30z"/>
<path d="M1466.6 376.2h3.6l13.2 26.3h-30z"/>
<path d="M1487.2 614.2h3.6l13.2 26.3h-30z"/>
<path d="M1490.3 388.8h3.6l13.2 26.3h-30z"/>
<path d="M1492.2 400.0h3.6l13.2 26.3h-30z"/>
<path d="M1494.7 486.2h3.6l13.2 26.3h-30z"/>
<path d="M1498.4 462.5h3.6l13.2 26.3h-30z"/>
<path d="M1502.2 400.0h3.6l13.2 26.3h-30z"/>
<path d="M1506.6 416.9h3.6l13.2 26.3h-30z"/>
<path d="M1514.2 453.8h3.6l13.2 26.3h-30z"/>
<path d="M1524.7 395.0h3.6l13.2 26.3h-30z"/>
<path d="M1526.0 376.2h3.6l13.2 26.3h-30z"/>
<path d="M1533.4 559.5h3.6l13.2 26.3h-30z"/>
<path d="M1537.8 385.6h3.6l13.2 26.3h-30z"/>
<path d="M1541.0 640.5h3.6l13.2 26.3h-30z"/>
<path d="M1546.0 388.1h3.6l13.2 26.3h-30z"/>
<path d="M1553.0 560.0h3.6l13.2 26.3h-30z"/>
<path d="M1557.2 790.0h3.6l13.2 26.3h-30z"/>
<path d="M1561.0 391.2h3.6l13.2 26.3h-30z"/>
<path d="M1564.7 463.8h3.6l13.2 26.3h-30z"/>
<path d="M1568.4 491.2h3.6l13.2 26.3h-30z"/>
<path d="M1572.2 399.4h3.6l13.2 26.3h-30z"/>
<path d="M1576.0 480.5h3.6l13.2 26.3h-30z"/>
<path d="M1580.2 473.0h3.6l13.2 26.3h-30z"/>
<path d="M1588.0 666.2h3.6l13.2 26.3h-30z"/>
<path d="M1592.2 373.1h3.6l13.2 26.3h-30z"/>
<path d="M1599.3 416.5h3.6l13.2 26.3h-30z"/>
<path d="M1599.7 383.8h3.6l13.2 26.3h-30z"/>
<path d="M1607.2 690.0h3.6l13.2 26.3h-30z"/>
<path d="M1611.7 554.5h3.6l13.2 26.3h-30z"/>
<path d="M1615.2 542.5h3.6l13.2 26.3h-30z"/>
<path d="M1619.7 500.0h3.6l13.2 26.3h-30z"/>
<path d="M1626.6 398.1h3.6l13.2 26.3h-30z"/>
<path d="M1632.2 444.5h3.6l13.2 26.3h-30z"/>
<path d="M1638.4 426.2h3.6l13.2 26.3h-30z"/>
<path d="M1642.7 568.8h3.6l13.2 26.3h-30z"/>
<path d="M1646.4 665.0h3.6l13.2 26.3h-30z"/>
<path d="M1657.8 381.9h3.6l13.2 26.3h-30z"/>
<path d="M1662.2 418.8h3.6l13.2 26.3h-30z"/>
<path d="M1665.3 376.2h3.6l13.2 26.3h-30z"/>
<path d="M1669.7 723.8h3.6l13.2 26.3h-30z"/>
<path d="M1673.4 560.0h3.6l13.2 26.3h-30z"/>
<path d="M1677.2 605.0h3.6l13.2 26.3h-30z"/>
<path d="M1681.7 730.0h3.6l13.2 26.3h-30z"/>
<path d="M1685.4 462.0h3.6l13.2 26.3h-30z"/>
<path d="M1687.2 397.5h3.6l13.2 26.3h-30z"/>
<path d="M1693.4 379.4h3.6l13.2 26.3h-30z"/>
<path d="M1700.7 382.5h3.6l13.2 26.3h-30z"/>
<path d="M1704.7 553.8h3.6l13.2 26.3h-30z"/>
<path d="M1709.4 385.6h3.6l13.2 26.3h-30z"/>
<path d="M1712.2 613.0h3.6l13.2 26.3h-30z"/>
<path d="M1716.0 418.0h3.6l13.2 26.3h-30z"/>
<path d="M1720.1 382.5h3.6l13.2 26.3h-30z"/>
<path d="M1723.4 437.5h3.6l13.2 26.3h-30z"/>
<path d="M1727.7 427.0h3.6l13.2 26.3h-30z"/>
<path d="M1732.2 442.0h3.6l13.2 26.3h-30z"/>
<path d="M1737.2 491.2h3.6l13.2 26.3h-30z"/>
<path d="M1742.6 370.6h3.6l13.2 26.3h-30z"/>
<path d="M1746.7 538.8h3.6l13.2 26.3h-30z"/>
<path d="M1752.0 373.5h3.6l13.2 26.3h-30z"/>
<path d="M1755.2 515.5h3.6l13.2 26.3h-30z"/>
<path d="M1758.4 418.8h3.6l13.2 26.3h-30z"/>
<path d="M1762.2 553.0h3.6l13.2 26.3h-30z"/>
<path d="M1766.3 385.6h3.6l13.2 26.3h-30z"/>
<path d="M1771.0 462.5h3.6l13.2 26.3h-30z"/>
<path d="M1774.2 442.5h3.6l13.2 26.3h-30z"/>
<path d="M1790.4 367.5h3.6l13.2 26.3h-30z"/>
<path d="M1794.4 398.1h3.6l13.2 26.3h-30z"/>
<path d="M1805.4 541.2h3.6l13.2 26.3h-30z"/>
<path d="M1809.4 385.0h3.6l13.2 26.3h-30z"/>
<path d="M1813.2 402.5h3.6l13.2 26.3h-30z"/>
<path d="M1817.2 460.0h3.6l13.2 26.3h-30z"/>
<path d="M1821.0 550.0h3.6l13.2 26.3h-30z"/>
<path d="M1828.4 467.5h3.6l13.2 26.3h-30z"/>
<path d="M1832.6 370.6h3.6l13.2 26.3h-30z"/>
<path d="M1837.2 466.2h3.6l13.2 26.3h-30z"/>
<path d="M1843.8 421.2h3.6l13.2 26.3h-30z"/>
<path d="M1852.0 409.4h3.6l13.2 26.3h-30z"/>
<path d="M1856.0 415.6h3.6l13.2 26.3h-30z"/>
<path d="M1859.4 373.5h3.6l13.2 26.3h-30z"/>
<path d="M1868.2 398.1h3.6l13.2 26.3h-30z"/>
<path d="M1871.3 367.5h3.6l13.2 26.3h-30z"/>
<path d="M1879.7 532.5h3.6l13.2 26.3h-30z"/>
<path d="M1885.7 378.8h3.6l13.2 26.3h-30z"/>
<path d="M1887.2 437.5h3.6l13.2 26.3h-30z"/>
<path d="M1890.7 373.8h3.6l13.2 26.3h-30z"/>
<path d="M1898.4 420.5h3.6l13.2 26.3h-30z"/>
<path d="M1901.0 457.5h3.6l13.2 26.3h-30z"/>
<path d="M1903.2 379.4h3.6l13.2 26.3h-30z"/>
<path d="M1906.7 447.5h3.6l13.2 26.3h-30z"/>
<path d="M1910.4 595.8h3.6l13.2 26.3h-30z"/>
<path d="M1922.0 401.2h3.6l13.2 26.3h-30z"/>
<path d="M1922.6 367.5h3.6l13.2 26.3h-30z"/>
<path d="M1926.0 487.0h3.6l13.2 26.3h-30z"/>
<path d="M1930.1 409.4h3.6l13.2 26.3h-30z"/>
<path d="M1945.1 388.1h3.6l13.2 26.3h-30z"/>
<path d="M1948.2 401.2h3.6l13.2 26.3h-30z"/>
<path d="M1957.0 381.9h3.6l13.2 26.3h-30z"/>
<path d="M1976.0 465.5h3.6l13.2 26.3h-30z"/>
<path d="M1977.0 400.0h3.6l13.2 26.3h-30z"/>
<path d="M1984.2 363.8h3.6l13.2 26.3h-30z"/>
<path d="M1996.7 376.2h3.6l13.2 26.3h-30z"/>
<path d="M2000.4 426.2h3.6l13.2 26.3h-30z"/>
<path d="M2004.2 401.2h3.6l13.2 26.3h-30z"/>
<path d="M2008.0 381.2h3.6l13.2 26.3h-30z"/>
<path d="M2011.7 649.6h3.6l13.2 26.3h-30z"/>
<path d="M2015.4 401.2h3.6l13.2 26.3h-30z"/>
<path d="M2027.3 370.6h3.6l13.2 26.3h-30z"/>
<path d="M2039.1 685.7h3.6l13.2 26.3h-30z"/>
<path d="M2042.7 407.5h3.6l13.2 26.3h-30z"/>
<path d="M321.0 391.2h3.6l13.2 26.3h-30z"/>
<path d="M352.1 394.8h3.6l13.2 26.3h-30z"/>
<path d="M356.0 392.2h3.6l13.2 26.3h-30z"/>
<path d="M359.8 383.9h3.6l13.2 26.3h-30z"/>
<path d="M375.4 388.6h3.6l13.2 26.3h-30z"/>
<path d="M390.9 390.1h3.6l13.2 26.3h-30z"/>
<path d="M394.8 386.0h3.6l13.2 26.3h-30z"/>
<path d="M398.7 388.3h3.6l13.2 26.3h-30z"/>
<path d="M422.0 395.8h3.6l13.2 26.3h-30z"/>
<path d="M460.9 392.6h3.6l13.2 26.3h-30z"/>
<path d="M488.1 398.7h3.6l13.2 26.3h-30z"/>
<path d="M492.0 392.4h3.6l13.2 26.3h-30z"/>
<path d="M503.7 388.4h3.6l13.2 26.3h-30z"/>
<path d="M507.6 392.6h3.6l13.2 26.3h-30z"/>
<path d="M515.3 387.2h3.6l13.2 26.3h-30z"/>
<path d="M527.0 387.1h3.6l13.2 26.3h-30z"/>
<path d="M530.9 392.9h3.6l13.2 26.3h-30z"/>
<path d="M546.4 393.4h3.6l13.2 26.3h-30z"/>
<path d="M558.1 390.0h3.6l13.2 26.3h-30z"/>
<path d="M562.0 387.2h3.6l13.2 26.3h-30z"/>
<path d="M585.3 393.3h3.6l13.2 26.3h-30z"/>
<path d="M593.1 383.5h3.6l13.2 26.3h-30z"/>
<path d="M597.0 392.7h3.6l13.2 26.3h-30z"/>
<path d="M600.9 387.2h3.6l13.2 26.3h-30z"/>
<path d="M616.4 384.5h3.6l13.2 26.3h-30z"/>
<path d="M628.1 384.2h3.6l13.2 26.3h-30z"/>
<path d="M632.0 390.3h3.6l13.2 26.3h-30z"/>
<path d="M635.9 391.6h3.6l13.2 26.3h-30z"/>
<path d="M639.7 384.9h3.6l13.2 26.3h-30z"/>
<path d="M651.4 391.6h3.6l13.2 26.3h-30z"/>
<path d="M663.1 391.3h3.6l13.2 26.3h-30z"/>
<path d="M694.2 397.9h3.6l13.2 26.3h-30z"/>
<path d="M701.9 396.0h3.6l13.2 26.3h-30z"/>
<path d="M709.7 390.6h3.6l13.2 26.3h-30z"/>
<path d="M810.8 396.6h3.6l13.2 26.3h-30z"/>
<path d="M830.2 386.4h3.6l13.2 26.3h-30z"/>
<path d="M896.3 390.1h3.6l13.2 26.3h-30z"/>
<path d="M900.2 388.9h3.6l13.2 26.3h-30z"/>
<path d="M911.9 386.9h3.6l13.2 26.3h-30z"/>
<path d="M915.8 392.3h3.6l13.2 26.3h-30z"/>
<path d="M923.5 390.5h3.6l13.2 26.3h-30z"/>
<path d="M931.3 386.1h3.6l13.2 26.3h-30z"/>
<path d="M943.0 392.3h3.6l13.2 26.3h-30z"/>
<path d="M950.7 393.0h3.6l13.2 26.3h-30z"/>
<path d="M1001.3 394.7h3.6l13.2 26.3h-30z"/>
<path d="M1024.6 396.1h3.6l13.2 26.3h-30z"/>
<path d="M1075.1 395.2h3.6l13.2 26.3h-30z"/>
<path d="M1082.9 392.2h3.6l13.2 26.3h-30z"/>
<path d="M1090.7 390.7h3.6l13.2 26.3h-30z"/>
<path d="M1125.7 387.5h3.6l13.2 26.3h-30z"/>
<path d="M1176.2 393.4h3.6l13.2 26.3h-30z"/>
<path d="M1191.8 384.2h3.6l13.2 26.3h-30z"/>
<path d="M1195.7 387.4h3.6l13.2 26.3h-30z"/>
<path d="M1203.4 390.9h3.6l13.2 26.3h-30z"/>
<path d="M1219.0 390.5h3.6l13.2 26.3h-30z"/>
<path d="M1230.6 389.3h3.6l13.2 26.3h-30z"/>
<path d="M1269.5 390.7h3.6l13.2 26.3h-30z"/>
<path d="M1273.4 397.2h3.6l13.2 26.3h-30z"/>
<path d="M1300.6 391.0h3.6l13.2 26.3h-30z"/>
<path d="M1343.4 389.0h3.6l13.2 26.3h-30z"/>
<path d="M1366.7 392.5h3.6l13.2 26.3h-30z"/>
<path d="M1374.5 398.5h3.6l13.2 26.3h-30z"/>
<path d="M1390.0 392.8h3.6l13.2 26.3h-30z"/>
<path d="M1393.9 389.8h3.6l13.2 26.3h-30z"/>
<path d="M1417.2 389.1h3.6l13.2 26.3h-30z"/>
<path d="M1444.4 396.7h3.6l13.2 26.3h-30z"/>
<path d="M1471.7 392.4h3.6l13.2 26.3h-30z"/>
<path d="M1475.6 393.5h3.6l13.2 26.3h-30z"/>
<path d="M1518.3 392.1h3.6l13.2 26.3h-30z"/>
<path d="M1530.0 390.5h3.6l13.2 26.3h-30z"/>
<path d="M1549.4 395.6h3.6l13.2 26.3h-30z"/>
<path d="M1584.4 391.9h3.6l13.2 26.3h-30z"/>
<path d="M1603.8 393.1h3.6l13.2 26.3h-30z"/>
<path d="M1650.5 396.0h3.6l13.2 26.3h-30z"/>
<path d="M1654.4 392.8h3.6l13.2 26.3h-30z"/>
<path d="M1697.1 389.0h3.6l13.2 26.3h-30z"/>
<path d="M1739.9 387.1h3.6l13.2 26.3h-30z"/>
<path d="M1778.8 392.1h3.6l13.2 26.3h-30z"/>
<path d="M1782.7 383.2h3.6l13.2 26.3h-30z"/>
<path d="M1786.6 387.8h3.6l13.2 26.3h-30z"/>
<path d="M1798.2 384.8h3.6l13.2 26.3h-30z"/>
<path d="M1802.1 389.6h3.6l13.2 26.3h-30z"/>
<path d="M1825.4 385.0h3.6l13.2 26.3h-30z"/>
<path d="M1841.0 391.9h3.6l13.2 26.3h-30z"/>
<path d="M1848.8 393.5h3.6l13.2 26.3h-30z"/>
<path d="M1864.3 385.6h3.6l13.2 26.3h-30z"/>
<path d="M1876.0 387.1h3.6l13.2 26.3h-30z"/>
<path d="M1895.4 392.2h3.6l13.2 26.3h-30z"/>
<path d="M1934.3 389.5h3.6l13.2 26.3h-30z"/>
<path d="M1938.2 395.9h3.6l13.2 26.3h-30z"/>
<path d="M1942.1 394.8h3.6l13.2 26.3h-30z"/>
<path d="M1953.7 393.0h3.6l13.2 26.3h-30z"/>
<path d="M1961.5 393.1h3.6l13.2 26.3h-30z"/>
<path d="M1965.4 397.7h3.6l13.2 26.3h-30z"/>
<path d="M1969.3 391.7h3.6l13.2 26.3h-30z"/>
<path d="M1980.9 387.4h3.6l13.2 26.3h-30z"/>
<path d="M1988.7 386.8h3.6l13.2 26.3h-30z"/>
<path d="M1992.6 392.3h3.6l13.2 26.3h-30z"/>
<path d="M2019.8 393.1h3.6l13.2 26.3h-30z"/>
<path d="M2023.7 384.6h3.6l13.2 26.3h-30z"/>
<path d="M2031.5 384.9h3.6l13.2 26.3h-30z"/>
<path d="M2035.4 387.7h3.6l13.2 26.3h-30z"/>
<path d="M919 299.5h3.6l13.2 26.3h-30z"/>
</g>
</g>
<line x1="280" y1="305.8" x2="2223" y2="315" stroke="#f00" stroke-width="8.4"/>
<line x1="280" y1="317.2" x2="2223" y2="323.6" stroke="#00f" stroke-width="7.6"/>
<line x1="280" y1="477.5" x2="2223" y2="477.5" stroke="#0f0" stroke-width="7.5"/>
<g class="ax">
<path d="M280 171.5V996" stroke-width="3.4"/>
<path d="M258 974.8H2225" stroke-width="3.2"/>
<path d="M258 173.75H280"/>
<path d="M268 223.75H280"/>
<path d="M258 273.75H280"/>
<path d="M268 323.75H280"/>
<path d="M258 373.75H280"/>
<path d="M268 423.75H280"/>
<path d="M258 473.75H280"/>
<path d="M268 523.75H280"/>
<path d="M258 573.75H280"/>
<path d="M268 623.75H280"/>
<path d="M258 673.75H280"/>
<path d="M268 723.75H280"/>
<path d="M258 773.75H280"/>
<path d="M268 823.75H280"/>
<path d="M258 873.75H280"/>
<path d="M268 923.75H280"/>
<path d="M474.4 974V987"/>
<path d="M668.8 974V996"/>
<path d="M863.1 974V987"/>
<path d="M1057.5 974V996"/>
<path d="M1251.9 974V987"/>
<path d="M1446.2 974V996"/>
<path d="M1640.6 974V987"/>
<path d="M1835.0 974V996"/>
<path d="M2029.4 974V987"/>
<path d="M2223.8 974V996"/>
</g>
<text class="tk" transform="scale(0.938 1)" x="152.5 187.6 228.0" y="194.5">1.0</text>
<text class="tk" transform="scale(0.938 1)" x="152.5 187.6 228.0" y="294.5">0.5</text>
<text class="tk" transform="scale(0.938 1)" x="152.5 187.6 228.0" y="394.5">0.0</text>
<text class="tk" transform="scale(0.938 1)" x="112.6 152.5 187.6 228.0" y="494.5">−0.5</text>
<text class="tk" transform="scale(0.938 1)" x="112.6 152.5 187.6 228.0" y="594.5">−1.0</text>
<text class="tk" transform="scale(0.938 1)" x="112.6 152.5 187.6 228.0" y="694.5">−1.5</text>
<text class="tk" transform="scale(0.938 1)" x="112.6 152.5 187.6 228.0" y="794.5">−2.0</text>
<text class="tk" transform="scale(0.938 1)" x="112.6 152.5 187.6 228.0" y="894.5">−2.5</text>
<text class="tk" transform="scale(0.938 1)" x="112.6 152.5 187.6 228.0" y="994.5">−3.0</text>
<text class="tk" transform="scale(0.938 1)" x="281.0" y="1067">0</text>
<text class="tk" transform="scale(0.938 1)" x="657.7 695.5 733.2" y="1067">100</text>
<text class="tk" transform="scale(0.938 1)" x="1072.2 1109.9 1147.6" y="1067">200</text>
<text class="tk" transform="scale(0.938 1)" x="1486.6 1524.3 1562.1" y="1067">300</text>
<text class="tk" transform="scale(0.938 1)" x="1901.1 1938.8 1976.5" y="1067">400</text>
<text class="tk" transform="scale(0.938 1)" x="2315.5 2353.2 2391.0" y="1067">500</text>
<text class="lg" x="1252.5" y="1161.6" text-anchor="middle" style="font-size:61.6px">Serial number</text>
<text class="lg" transform="translate(62 818) rotate(-90)" style="font-size:63.5px"><tspan font-style="italic">a</tspan><tspan dy="19.8">ph</tspan><tspan dy="-19.8">490-</tspan><tspan font-style="italic">a</tspan><tspan dy="19.8">ph</tspan><tspan dy="-19.8">660</tspan></text>
<circle cx="379.5" cy="42.5" r="18" fill="#f00"/>
<rect x="705" y="26" width="33" height="33" fill="#00f"/>
<path d="M1388.7 18.5l21.3 37h-42.6z" fill="#0f0"/>
<line x1="306" y1="121" x2="452.5" y2="121" stroke="#f00" stroke-width="7.5"/>
<line x1="648" y1="121" x2="795" y2="121" stroke="#00f" stroke-width="7.5"/>
<line x1="1315.5" y1="121" x2="1462" y2="121" stroke="#0f0" stroke-width="7.5"/>
<text class="lg" x="465" y="64">red tide</text>
<text class="lg" x="808" y="64">non-red tide onshore</text>
<text class="lg" x="1475" y="64">non-red tide offshore</text>
<text class="lg" x="465" y="142.5">red tide</text>
<text class="lg" x="808" y="142.5">non-red tide onshore</text>
<text class="lg" x="1475" y="142.5">non-red tide offshore</text>
</svg></body></html>
